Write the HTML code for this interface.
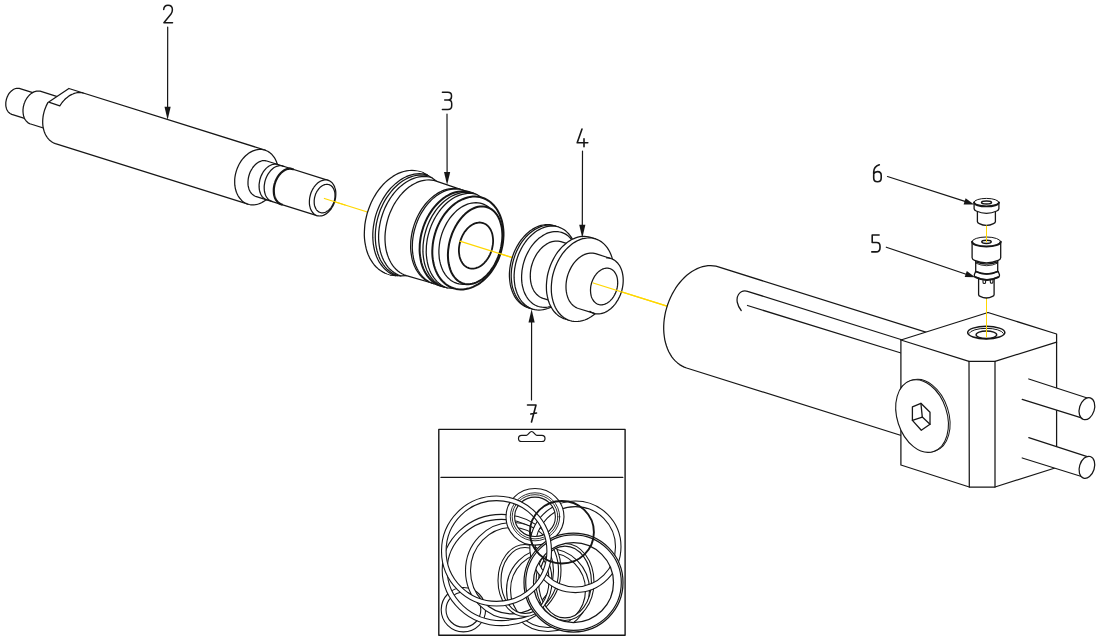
<!DOCTYPE html>
<html><head><meta charset="utf-8"><title>Exploded view</title>
<style>
html,body{margin:0;padding:0;background:#fff;}
body{width:1100px;height:640px;overflow:hidden;font-family:"Liberation Sans",sans-serif;}
svg{display:block;}
</style></head><body>
<svg width="1100" height="640" viewBox="0 0 1100 640" stroke-linecap="round" stroke-linejoin="round">
<defs><clipPath id="bagclip"><rect x="439.5" y="478" width="185.2" height="156.5"/></clipPath></defs>
<rect x="0" y="0" width="1100" height="640" fill="#fff"/>
<line x1="324.4" y1="198.5" x2="667.0" y2="306.2" stroke="#ffd700" stroke-width="1.25" />
<line x1="986.5" y1="226.0" x2="986.5" y2="337.0" stroke="#ffd700" stroke-width="1.0" />
<path d="M20.0 88.6 L19.3 88.4 L18.6 88.3 L17.9 88.3 L17.2 88.3 L16.5 88.4 L15.8 88.5 L15.1 88.7 L14.4 89.0 L13.7 89.3 L13.0 89.7 L12.4 90.2 L11.7 90.7 L11.1 91.3 L10.5 91.9 L9.9 92.5 L9.3 93.2 L8.8 93.9 L8.3 94.7 L7.9 95.5 L7.5 96.4 L7.1 97.2 L6.8 98.1 L6.5 99.0 L6.3 99.9 L6.1 100.8 L5.9 101.8 L5.8 102.7 L5.8 103.6 L5.8 104.5 L5.8 105.4 L5.9 106.3 L6.1 107.1 L6.3 107.9 L6.5 108.7 L6.8 109.5 L7.2 110.2 L7.6 110.9 L8.0 111.5 L8.4 112.1 L8.9 112.6 L9.5 113.1 L10.0 113.5 L10.6 113.8 L11.2 114.1 L11.8 114.4 L31.7 120.6 L32.4 120.8 L33.1 120.9 L33.8 120.9 L34.5 120.9 L35.2 120.8 L35.9 120.7 L36.6 120.5 L37.3 120.2 L38.0 119.9 L38.7 119.5 L39.3 119.0 L40.0 118.5 L40.6 118.0 L41.2 117.4 L41.8 116.7 L42.4 116.0 L42.9 115.3 L43.4 114.5 L43.8 113.7 L44.2 112.8 L44.6 112.0 L44.9 111.1 L45.2 110.2 L45.4 109.3 L45.6 108.4 L45.8 107.4 L45.9 106.5 L45.9 105.6 L45.9 104.7 L45.9 103.8 L45.8 103.0 L45.6 102.1 L45.4 101.3 L45.2 100.5 L44.9 99.7 L44.5 99.0 L44.1 98.4 L43.7 97.7 L43.3 97.2 L42.8 96.6 L42.2 96.2 L41.7 95.7 L41.1 95.4 L40.5 95.1 L39.9 94.9Z" fill="#fff" stroke="none" stroke-width="0" />
<path d="M39.9 94.9 L20.0 88.6 L19.3 88.4 L18.6 88.3 L17.9 88.3 L17.2 88.3 L16.5 88.4 L15.8 88.5 L15.1 88.7 L14.4 89.0 L13.7 89.3 L13.0 89.7 L12.4 90.2 L11.7 90.7 L11.1 91.3 L10.5 91.9 L9.9 92.5 L9.3 93.2 L8.8 93.9 L8.3 94.7 L7.9 95.5 L7.5 96.4 L7.1 97.2 L6.8 98.1 L6.5 99.0 L6.3 99.9 L6.1 100.8 L5.9 101.8 L5.8 102.7 L5.8 103.6 L5.8 104.5 L5.8 105.4 L5.9 106.3 L6.1 107.1 L6.3 107.9 L6.5 108.7 L6.8 109.5 L7.2 110.2 L7.6 110.9 L8.0 111.5 L8.4 112.1 L8.9 112.6 L9.5 113.1 L10.0 113.5 L10.6 113.8 L11.2 114.1 L11.8 114.4 L31.7 120.6" fill="none" stroke="#161616" stroke-width="1.25" />
<path d="M40.9 91.4 L40.1 91.2 L39.2 91.1 L38.4 91.0 L37.5 91.0 L36.6 91.1 L35.7 91.3 L34.8 91.6 L33.9 91.9 L33.0 92.4 L32.2 92.9 L31.3 93.4 L30.5 94.1 L29.7 94.8 L28.9 95.6 L28.2 96.4 L27.5 97.3 L26.8 98.2 L26.2 99.2 L25.6 100.2 L25.1 101.3 L24.7 102.4 L24.2 103.5 L23.9 104.6 L23.6 105.8 L23.3 106.9 L23.2 108.1 L23.0 109.3 L23.0 110.4 L23.0 111.6 L23.1 112.7 L23.2 113.8 L23.4 114.9 L23.6 115.9 L24.0 116.9 L24.3 117.9 L24.7 118.8 L25.2 119.6 L25.8 120.4 L26.3 121.1 L27.0 121.8 L27.6 122.4 L28.3 122.9 L29.1 123.4 L29.9 123.8 L30.7 124.0 L58.9 132.9 L59.7 133.1 L60.6 133.3 L61.4 133.3 L62.3 133.3 L63.2 133.2 L64.1 133.0 L65.0 132.7 L65.9 132.4 L66.8 132.0 L67.6 131.5 L68.5 130.9 L69.3 130.3 L70.1 129.6 L70.9 128.8 L71.6 128.0 L72.3 127.1 L73.0 126.1 L73.6 125.2 L74.2 124.1 L74.7 123.1 L75.1 122.0 L75.6 120.9 L75.9 119.7 L76.2 118.6 L76.5 117.4 L76.6 116.2 L76.8 115.1 L76.8 113.9 L76.8 112.8 L76.7 111.6 L76.6 110.5 L76.4 109.5 L76.2 108.4 L75.8 107.4 L75.5 106.5 L75.1 105.6 L74.6 104.7 L74.0 103.9 L73.5 103.2 L72.8 102.5 L72.2 101.9 L71.5 101.4 L70.7 101.0 L69.9 100.6 L69.1 100.3Z" fill="#fff" stroke="none" stroke-width="0" />
<path d="M69.1 100.3 L40.9 91.4 L40.1 91.2 L39.2 91.1 L38.4 91.0 L37.5 91.0 L36.6 91.1 L35.7 91.3 L34.8 91.6 L33.9 91.9 L33.0 92.4 L32.2 92.9 L31.3 93.4 L30.5 94.1 L29.7 94.8 L28.9 95.6 L28.2 96.4 L27.5 97.3 L26.8 98.2 L26.2 99.2 L25.6 100.2 L25.1 101.3 L24.7 102.4 L24.2 103.5 L23.9 104.6 L23.6 105.8 L23.3 106.9 L23.2 108.1 L23.0 109.3 L23.0 110.4 L23.0 111.6 L23.1 112.7 L23.2 113.8 L23.4 114.9 L23.6 115.9 L24.0 116.9 L24.3 117.9 L24.7 118.8 L25.2 119.6 L25.8 120.4 L26.3 121.1 L27.0 121.8 L27.6 122.4 L28.3 122.9 L29.1 123.4 L29.9 123.8 L30.7 124.0 L58.9 132.9" fill="none" stroke="#161616" stroke-width="1.25" />
<path d="M48.0 102.4 L47.1 104.1 L46.2 105.9 L45.5 107.7 L44.8 109.5 L44.2 111.4 L43.7 113.3 L43.3 115.2 L43.0 117.2 L42.8 119.1 L42.7 121.0 L42.7 122.9 L42.8 124.8 L43.0 126.6 L43.4 128.4 L43.8 130.1 L44.3 131.7 L44.9 133.3 L45.6 134.8 L46.4 136.2 L47.3 137.5 L48.2 138.7 L49.3 139.9 L50.4 140.8 L51.6 141.7 L52.8 142.5 L54.1 143.1 L55.4 143.6 L248.0 204.1 L249.4 204.5 L250.9 204.8 L252.4 204.9 L253.9 204.8 L255.4 204.7 L256.9 204.4 L258.4 204.0 L260.0 203.4 L261.5 202.7 L262.9 201.9 L264.4 201.0 L265.8 199.9 L267.1 198.8 L268.4 197.5 L269.7 196.1 L270.9 194.7 L272.0 193.1 L273.0 191.5 L274.0 189.8 L274.8 188.1 L275.6 186.3 L276.3 184.4 L276.9 182.5 L277.4 180.6 L277.8 178.7 L278.1 176.8 L278.3 174.8 L278.3 172.9 L278.3 171.0 L278.2 169.1 L277.9 167.3 L277.6 165.5 L277.1 163.8 L276.6 162.1 L275.9 160.5 L275.2 159.0 L274.4 157.6 L273.4 156.3 L272.4 155.1 L271.4 153.9 L270.2 152.9 L269.0 152.1 L267.7 151.3 L266.4 150.7 L265.0 150.1 L68.9 88.5Z" fill="#fff" stroke="none" stroke-width="0" />
<path d="M265.0 150.1 L68.9 88.5 L48.0 102.4 L47.1 104.1 L46.2 105.9 L45.5 107.7 L44.8 109.5 L44.2 111.4 L43.7 113.3 L43.3 115.2 L43.0 117.2 L42.8 119.1 L42.7 121.0 L42.7 122.9 L42.8 124.8 L43.0 126.6 L43.4 128.4 L43.8 130.1 L44.3 131.7 L44.9 133.3 L45.6 134.8 L46.4 136.2 L47.3 137.5 L48.2 138.7 L49.3 139.9 L50.4 140.8 L51.6 141.7 L52.8 142.5 L54.1 143.1 L55.4 143.6 L248.0 204.1" fill="none" stroke="#161616" stroke-width="1.25" />
<path d="M248.0 204.1 L249.4 204.5 L250.9 204.8 L252.4 204.9 L253.9 204.8 L255.4 204.7 L256.9 204.4 L258.4 204.0 L260.0 203.4 L261.5 202.7 L262.9 201.9 L264.4 201.0 L265.8 199.9 L267.1 198.8 L268.4 197.5 L269.7 196.1 L270.9 194.7 L272.0 193.1 L273.0 191.5 L274.0 189.8 L274.8 188.1 L275.6 186.3 L276.3 184.4 L276.9 182.5 L277.4 180.6 L277.8 178.7 L278.1 176.8 L278.3 174.8 L278.3 172.9 L278.3 171.0 L278.2 169.1 L277.9 167.3 L277.6 165.5 L277.1 163.8 L276.6 162.1 L275.9 160.5 L275.2 159.0 L274.4 157.6 L273.4 156.3 L272.4 155.1 L271.4 153.9 L270.2 152.9 L269.0 152.1 L267.7 151.3 L266.4 150.7 L265.0 150.1 L263.6 149.8 L262.1 149.5 L260.6 149.4 L259.1 149.5 L257.6 149.6 L256.1 149.9 L254.6 150.3 L253.0 150.9 L251.5 151.6 L250.1 152.4 L248.6 153.3 L247.2 154.4 L245.9 155.5 L244.6 156.8 L243.3 158.2 L242.1 159.6 L241.0 161.2 L240.0 162.8 L239.0 164.5 L238.2 166.2 L237.4 168.0 L236.7 169.9 L236.1 171.8 L235.6 173.7 L235.2 175.6 L234.9 177.5 L234.7 179.5 L234.7 181.4 L234.7 183.3 L234.8 185.2 L235.1 187.0 L235.4 188.8 L235.9 190.5 L236.4 192.2 L237.1 193.8 L237.8 195.3 L238.6 196.7 L239.6 198.0 L240.6 199.2 L241.6 200.4 L242.8 201.4 L244.0 202.2 L245.3 203.0 L246.6 203.6 L248.0 204.1Z" fill="#fff" stroke="#161616" stroke-width="1.25" />
<path d="M49.5 102.3 L59.8 105.9 L62.1 102.5 L63.3 101.1 L64.5 99.8 L65.8 98.5 L67.2 97.4 L68.6 96.3 L70.0 95.4 L71.4 94.6 L72.9 94.0 L74.3 93.4 L75.8 93.0 L77.3 92.7 L78.8 92.6 L80.2 92.6 L81.7 92.7 L83.1 93.0" fill="none" stroke="#161616" stroke-width="1.25" />
<path d="M266.8 161.0 L265.9 160.8 L265.0 160.6 L264.1 160.6 L263.2 160.6 L262.3 160.7 L261.4 161.0 L260.5 161.3 L259.5 161.7 L258.6 162.1 L257.7 162.7 L256.9 163.3 L256.0 164.0 L255.2 164.8 L254.4 165.6 L253.6 166.5 L252.8 167.5 L252.2 168.5 L251.5 169.6 L250.9 170.7 L250.3 171.8 L249.8 173.0 L249.4 174.2 L249.0 175.5 L248.7 176.7 L248.4 178.0 L248.2 179.2 L248.1 180.5 L248.0 181.7 L248.0 183.0 L248.0 184.2 L248.1 185.4 L248.3 186.5 L248.6 187.6 L248.9 188.7 L249.2 189.7 L249.7 190.7 L250.1 191.6 L250.7 192.4 L251.2 193.2 L251.9 193.9 L252.6 194.5 L253.3 195.1 L254.0 195.6 L254.8 196.0 L255.6 196.3 L317.0 215.6 L317.9 215.8 L318.8 215.9 L319.7 216.0 L320.6 215.9 L321.5 215.8 L322.4 215.6 L323.3 215.3 L324.3 214.9 L325.2 214.4 L326.1 213.9 L326.9 213.3 L327.8 212.5 L328.6 211.8 L329.4 210.9 L330.2 210.0 L331.0 209.1 L331.6 208.0 L332.3 207.0 L332.9 205.9 L333.5 204.7 L334.0 203.5 L334.4 202.3 L334.8 201.1 L335.1 199.8 L335.4 198.6 L335.6 197.3 L335.7 196.1 L335.8 194.8 L335.8 193.6 L335.8 192.4 L335.7 191.2 L335.5 190.0 L335.2 188.9 L334.9 187.9 L334.6 186.8 L334.1 185.9 L333.7 185.0 L333.1 184.1 L332.6 183.3 L331.9 182.6 L331.2 182.0 L330.5 181.5 L329.8 181.0 L329.0 180.6 L328.2 180.3Z" fill="#fff" stroke="none" stroke-width="0" />
<path d="M328.2 180.3 L266.8 161.0 L265.9 160.8 L265.0 160.6 L264.1 160.6 L263.2 160.6 L262.3 160.7 L261.4 161.0 L260.5 161.3 L259.5 161.7 L258.6 162.1 L257.7 162.7 L256.9 163.3 L256.0 164.0 L255.2 164.8 L254.4 165.6 L253.6 166.5 L252.8 167.5 L252.2 168.5 L251.5 169.6 L250.9 170.7 L250.3 171.8 L249.8 173.0 L249.4 174.2 L249.0 175.5 L248.7 176.7 L248.4 178.0 L248.2 179.2 L248.1 180.5 L248.0 181.7 L248.0 183.0 L248.0 184.2 L248.1 185.4 L248.3 186.5 L248.6 187.6 L248.9 188.7 L249.2 189.7 L249.7 190.7 L250.1 191.6 L250.7 192.4 L251.2 193.2 L251.9 193.9 L252.6 194.5 L253.3 195.1 L254.0 195.6 L254.8 196.0 L255.6 196.3 L317.0 215.6" fill="none" stroke="#161616" stroke-width="1.25" />
<path d="M317.0 215.6 L317.9 215.8 L318.8 215.9 L319.7 216.0 L320.6 215.9 L321.5 215.8 L322.4 215.6 L323.3 215.3 L324.3 214.9 L325.2 214.4 L326.1 213.9 L326.9 213.3 L327.8 212.5 L328.6 211.8 L329.4 210.9 L330.2 210.0 L331.0 209.1 L331.6 208.0 L332.3 207.0 L332.9 205.9 L333.5 204.7 L334.0 203.5 L334.4 202.3 L334.8 201.1 L335.1 199.8 L335.4 198.6 L335.6 197.3 L335.7 196.1 L335.8 194.8 L335.8 193.6 L335.8 192.4 L335.7 191.2 L335.5 190.0 L335.2 188.9 L334.9 187.9 L334.6 186.8 L334.1 185.9 L333.7 185.0 L333.1 184.1 L332.6 183.3 L331.9 182.6 L331.2 182.0 L330.5 181.5 L329.8 181.0 L329.0 180.6 L328.2 180.3 L327.3 180.1 L326.4 179.9 L325.5 179.9 L324.6 179.9 L323.7 180.1 L322.8 180.3 L321.9 180.6 L320.9 181.0 L320.0 181.4 L319.1 182.0 L318.3 182.6 L317.4 183.3 L316.6 184.1 L315.8 184.9 L315.0 185.8 L314.2 186.8 L313.6 187.8 L312.9 188.9 L312.3 190.0 L311.7 191.2 L311.2 192.3 L310.8 193.5 L310.4 194.8 L310.1 196.0 L309.8 197.3 L309.6 198.5 L309.5 199.8 L309.4 201.0 L309.4 202.3 L309.4 203.5 L309.5 204.7 L309.7 205.8 L310.0 206.9 L310.3 208.0 L310.6 209.0 L311.1 210.0 L311.5 210.9 L312.1 211.7 L312.6 212.5 L313.3 213.2 L314.0 213.9 L314.7 214.4 L315.4 214.9 L316.2 215.3 L317.0 215.6Z" fill="#fff" stroke="#161616" stroke-width="1.25" />
<path d="M278.7 164.8 L277.8 164.5 L277.0 164.2 L276.1 164.1 L275.2 164.1 L274.3 164.1 L273.4 164.3 L272.4 164.5 L271.5 164.8 L270.6 165.2 L269.6 165.7 L268.7 166.2 L267.8 166.9 L267.0 167.6 L266.1 168.4 L265.3 169.3 L264.6 170.2 L263.8 171.2 L263.1 172.2 L262.5 173.3 L261.9 174.4 L261.3 175.6 L260.8 176.8 L260.4 178.0 L260.0 179.3 L259.7 180.5 L259.5 181.8 L259.3 183.1 L259.1 184.4 L259.1 185.6 L259.1 186.9 L259.2 188.1 L259.3 189.3 L259.5 190.4 L259.8 191.5 L260.1 192.6 L260.5 193.6 L260.9 194.5 L261.4 195.4 L262.0 196.3 L262.6 197.0 L263.3 197.7 L264.0 198.3 L264.7 198.8 L265.5 199.3 L266.3 199.6 L267.2 199.9" fill="none" stroke="#161616" stroke-width="1.25" />
<path d="M283.8 166.4 L282.9 166.1 L282.1 165.8 L281.2 165.7 L280.3 165.7 L279.4 165.7 L278.5 165.9 L277.5 166.1 L276.6 166.4 L275.7 166.8 L274.7 167.3 L273.8 167.8 L272.9 168.5 L272.1 169.2 L271.2 170.0 L270.4 170.9 L269.7 171.8 L268.9 172.8 L268.2 173.8 L267.6 174.9 L267.0 176.0 L266.4 177.2 L265.9 178.4 L265.5 179.6 L265.1 180.9 L264.8 182.2 L264.6 183.4 L264.4 184.7 L264.2 186.0 L264.2 187.2 L264.2 188.5 L264.3 189.7 L264.4 190.9 L264.6 192.0 L264.9 193.1 L265.2 194.2 L265.6 195.2 L266.0 196.1 L266.5 197.0 L267.1 197.9 L267.7 198.6 L268.4 199.3 L269.1 199.9 L269.8 200.4 L270.6 200.9 L271.4 201.2 L272.3 201.5" fill="none" stroke="#161616" stroke-width="1.25" />
<path d="M293.0 169.2 L292.1 169.0 L291.3 168.8 L290.4 168.7 L289.5 168.7 L288.6 168.8 L287.7 169.0 L286.7 169.2 L285.8 169.6 L284.9 170.0 L284.0 170.5 L283.1 171.1 L282.2 171.8 L281.4 172.5 L280.6 173.3 L279.8 174.2 L279.0 175.1 L278.3 176.1 L277.6 177.2 L277.0 178.2 L276.4 179.4 L275.9 180.5 L275.4 181.7 L275.0 183.0 L274.6 184.2 L274.3 185.5 L274.1 186.7 L273.9 188.0 L273.8 189.2 L273.8 190.5 L273.8 191.7 L273.9 192.9 L274.0 194.1 L274.2 195.2 L274.5 196.3 L274.8 197.3 L275.2 198.3 L275.7 199.3 L276.2 200.1 L276.8 200.9 L277.4 201.7 L278.0 202.4 L278.7 202.9 L279.5 203.5 L280.2 203.9 L281.0 204.2 L281.9 204.5" fill="none" stroke="#161616" stroke-width="2.2" />
<path d="M320.2 212.5 L320.9 212.7 L321.6 212.8 L322.3 212.8 L323.0 212.8 L323.7 212.7 L324.5 212.5 L325.2 212.3 L325.9 212.0 L326.6 211.6 L327.3 211.1 L328.0 210.7 L328.7 210.1 L329.4 209.5 L330.0 208.8 L330.6 208.1 L331.2 207.3 L331.7 206.5 L332.3 205.7 L332.7 204.8 L333.2 203.9 L333.6 203.0 L333.9 202.0 L334.2 201.1 L334.5 200.1 L334.7 199.1 L334.8 198.1 L335.0 197.1 L335.0 196.1 L335.0 195.1 L335.0 194.2 L334.9 193.2 L334.8 192.3 L334.6 191.5 L334.3 190.6 L334.0 189.8 L333.7 189.0 L333.3 188.3 L332.9 187.7 L332.5 187.1 L332.0 186.5 L331.4 186.0 L330.9 185.6 L330.3 185.2 L329.6 184.9 L329.0 184.6 L328.3 184.5 L327.6 184.4 L326.9 184.3 L326.2 184.4 L325.5 184.5 L324.7 184.6 L324.0 184.9 L323.3 185.2 L322.6 185.5 L321.9 186.0 L321.2 186.5 L320.5 187.0 L319.8 187.6 L319.2 188.3 L318.6 189.0 L318.0 189.8 L317.5 190.6 L316.9 191.4 L316.5 192.3 L316.0 193.2 L315.6 194.1 L315.3 195.1 L315.0 196.1 L314.7 197.1 L314.5 198.0 L314.4 199.0 L314.2 200.0 L314.2 201.0 L314.2 202.0 L314.2 202.9 L314.3 203.9 L314.4 204.8 L314.6 205.7 L314.9 206.5 L315.2 207.3 L315.5 208.1 L315.9 208.8 L316.3 209.5 L316.7 210.1 L317.2 210.6 L317.8 211.1 L318.3 211.6 L318.9 211.9 L319.6 212.2 L320.2 212.5Z" fill="#fff" stroke="#161616" stroke-width="1.25" />
<line x1="324.4" y1="198.5" x2="345.0" y2="205.0" stroke="#ffd700" stroke-width="1.25" />
<path d="M419.7 171.6 L417.2 171.0 L414.6 170.6 L411.9 170.4 L409.2 170.5 L406.5 170.9 L403.7 171.5 L401.0 172.3 L398.3 173.4 L395.6 174.8 L392.9 176.4 L390.3 178.2 L387.7 180.2 L385.3 182.4 L382.9 184.8 L380.6 187.5 L378.5 190.2 L376.4 193.2 L374.5 196.3 L372.7 199.5 L371.1 202.8 L369.7 206.3 L368.4 209.8 L367.2 213.3 L366.3 217.0 L365.5 220.6 L364.9 224.3 L364.6 227.9 L364.4 231.5 L364.3 235.1 L364.5 238.6 L364.9 242.1 L365.5 245.4 L366.2 248.7 L367.1 251.8 L368.2 254.8 L369.5 257.6 L371.0 260.2 L372.6 262.7 L374.3 265.0 L376.2 267.0 L378.3 268.9 L380.4 270.5 L382.7 271.9 L385.0 273.1 L387.5 274.0 L390.9 275.1 L393.4 275.7 L396.0 276.1 L398.7 276.3 L401.4 276.2 L404.1 275.8 L406.9 275.2 L409.6 274.4 L412.3 273.3 L415.0 271.9 L417.7 270.3 L420.3 268.5 L422.9 266.5 L425.3 264.3 L427.7 261.8 L430.0 259.2 L432.1 256.4 L434.2 253.5 L436.1 250.4 L437.9 247.2 L439.5 243.9 L440.9 240.4 L442.2 236.9 L443.4 233.4 L444.3 229.7 L445.1 226.1 L445.7 222.4 L446.0 218.8 L446.2 215.2 L446.3 211.6 L446.1 208.0 L445.7 204.6 L445.1 201.2 L444.4 198.0 L443.5 194.9 L442.4 191.9 L441.1 189.1 L439.6 186.4 L438.0 184.0 L436.3 181.7 L434.4 179.6 L432.3 177.8 L430.2 176.2 L427.9 174.8 L425.6 173.6 L423.1 172.7Z" fill="#fff" stroke="none" stroke-width="0" />
<path d="M423.1 172.7 L419.7 171.6 L417.2 171.0 L414.6 170.6 L411.9 170.4 L409.2 170.5 L406.5 170.9 L403.7 171.5 L401.0 172.3 L398.3 173.4 L395.6 174.8 L392.9 176.4 L390.3 178.2 L387.7 180.2 L385.3 182.4 L382.9 184.8 L380.6 187.5 L378.5 190.2 L376.4 193.2 L374.5 196.3 L372.7 199.5 L371.1 202.8 L369.7 206.3 L368.4 209.8 L367.2 213.3 L366.3 217.0 L365.5 220.6 L364.9 224.3 L364.6 227.9 L364.4 231.5 L364.3 235.1 L364.5 238.6 L364.9 242.1 L365.5 245.4 L366.2 248.7 L367.1 251.8 L368.2 254.8 L369.5 257.6 L371.0 260.2 L372.6 262.7 L374.3 265.0 L376.2 267.0 L378.3 268.9 L380.4 270.5 L382.7 271.9 L385.0 273.1 L387.5 274.0 L390.9 275.1" fill="none" stroke="#161616" stroke-width="1.25" />
<path d="M423.1 172.7 L420.6 172.0 L418.0 171.6 L415.3 171.5 L412.6 171.6 L409.9 171.9 L407.1 172.5 L404.4 173.4 L401.7 174.5 L399.0 175.9 L396.3 177.4 L393.7 179.2 L391.1 181.3 L388.7 183.5 L386.3 185.9 L384.0 188.5 L381.9 191.3 L379.8 194.3 L377.9 197.3 L376.1 200.6 L374.5 203.9 L373.1 207.3 L371.8 210.8 L370.6 214.4 L369.7 218.0 L368.9 221.7 L368.3 225.3 L368.0 229.0 L367.8 232.6 L367.7 236.2 L367.9 239.7 L368.3 243.2 L368.9 246.5 L369.6 249.7 L370.5 252.9 L371.6 255.8 L372.9 258.7 L374.4 261.3 L376.0 263.8 L377.7 266.0 L379.6 268.1 L381.7 270.0 L383.8 271.6 L386.1 273.0 L388.4 274.1 L390.9 275.1 L395.6 275.6 L398.1 276.2 L400.6 276.6 L403.2 276.8 L405.9 276.7 L408.6 276.3 L411.3 275.7 L414.0 274.9 L416.6 273.8 L419.3 272.5 L421.9 270.9 L424.5 269.2 L427.0 267.2 L429.4 265.0 L431.8 262.6 L434.0 260.0 L436.1 257.3 L438.1 254.4 L440.0 251.3 L441.7 248.2 L443.3 244.9 L444.8 241.5 L446.1 238.1 L447.2 234.6 L448.1 231.0 L448.8 227.4 L449.4 223.8 L449.8 220.2 L450.0 216.7 L450.0 213.2 L449.8 209.7 L449.5 206.3 L448.9 203.0 L448.2 199.8 L447.3 196.8 L446.2 193.8 L444.9 191.1 L443.5 188.5 L441.9 186.0 L440.2 183.8 L438.3 181.8 L436.3 179.9 L434.2 178.3 L432.0 177.0 L429.6 175.8 L427.2 174.9Z" fill="#fff" stroke="none" stroke-width="0" />
<path d="M427.2 174.9 L423.1 172.7" fill="none" stroke="#161616" stroke-width="1.25" />
<path d="M390.9 275.1 L395.6 275.6" fill="none" stroke="#161616" stroke-width="1.25" />
<path d="M427.2 174.9 L424.7 174.3 L422.2 173.9 L419.6 173.7 L416.9 173.8 L414.2 174.2 L411.5 174.8 L408.8 175.6 L406.2 176.7 L403.5 178.0 L400.9 179.6 L398.3 181.4 L395.8 183.4 L393.4 185.6 L391.0 187.9 L388.8 190.5 L386.7 193.2 L384.7 196.1 L382.8 199.2 L381.1 202.3 L379.5 205.6 L378.0 209.0 L376.7 212.4 L375.6 215.9 L374.7 219.5 L374.0 223.1 L373.4 226.7 L373.0 230.3 L372.8 233.8 L372.8 237.4 L373.0 240.8 L373.3 244.2 L373.9 247.5 L374.6 250.7 L375.5 253.8 L376.6 256.7 L377.9 259.5 L379.3 262.1 L380.9 264.5 L382.6 266.7 L384.5 268.8 L386.5 270.6 L388.6 272.2 L390.8 273.6 L393.2 274.7 L395.6 275.6 L397.8 275.6 L400.2 276.2 L402.8 276.6 L405.3 276.8 L408.0 276.7 L410.6 276.3 L413.3 275.7 L415.9 274.9 L418.6 273.8 L421.2 272.5 L423.8 271.0 L426.3 269.2 L428.8 267.3 L431.2 265.1 L433.5 262.8 L435.7 260.2 L437.8 257.5 L439.8 254.7 L441.7 251.7 L443.4 248.5 L444.9 245.3 L446.4 242.0 L447.6 238.6 L448.7 235.1 L449.6 231.6 L450.4 228.0 L450.9 224.5 L451.3 220.9 L451.5 217.4 L451.5 213.9 L451.3 210.5 L451.0 207.2 L450.4 203.9 L449.7 200.8 L448.8 197.7 L447.7 194.9 L446.5 192.1 L445.1 189.5 L443.5 187.1 L441.8 184.9 L440.0 182.9 L438.0 181.1 L435.9 179.6 L433.7 178.2 L431.4 177.1 L429.0 176.2Z" fill="#fff" stroke="none" stroke-width="0" />
<path d="M429.0 176.2 L427.2 174.9 L424.7 174.3 L422.2 173.9 L419.6 173.7 L416.9 173.8 L414.2 174.2 L411.5 174.8 L408.8 175.6 L406.2 176.7 L403.5 178.0 L400.9 179.6 L398.3 181.4 L395.8 183.4 L393.4 185.6 L391.0 187.9 L388.8 190.5 L386.7 193.2 L384.7 196.1 L382.8 199.2 L381.1 202.3 L379.5 205.6 L378.0 209.0 L376.7 212.4 L375.6 215.9 L374.7 219.5 L374.0 223.1 L373.4 226.7 L373.0 230.3 L372.8 233.8 L372.8 237.4 L373.0 240.8 L373.3 244.2 L373.9 247.5 L374.6 250.7 L375.5 253.8 L376.6 256.7 L377.9 259.5 L379.3 262.1 L380.9 264.5 L382.6 266.7 L384.5 268.8 L386.5 270.6 L388.6 272.2 L390.8 273.6 L393.2 274.7 L395.6 275.6 L397.8 275.6" fill="none" stroke="#161616" stroke-width="1.25" />
<path d="M429.0 176.2 L426.6 175.5 L424.0 175.2 L421.5 175.0 L418.8 175.1 L416.2 175.4 L413.5 176.0 L410.9 176.9 L408.2 177.9 L405.6 179.3 L403.0 180.8 L400.5 182.5 L398.0 184.5 L395.6 186.7 L393.3 189.0 L391.1 191.6 L389.0 194.3 L387.0 197.1 L385.1 200.1 L383.4 203.3 L381.9 206.5 L380.4 209.8 L379.2 213.2 L378.1 216.7 L377.2 220.2 L376.4 223.7 L375.9 227.3 L375.5 230.8 L375.3 234.4 L375.3 237.8 L375.5 241.3 L375.8 244.6 L376.4 247.9 L377.1 251.0 L378.0 254.0 L379.1 256.9 L380.3 259.7 L381.7 262.2 L383.3 264.6 L385.0 266.8 L386.8 268.9 L388.8 270.6 L390.9 272.2 L393.1 273.6 L395.4 274.7 L397.8 275.6 L400.8 275.9 L403.3 276.6 L405.8 277.0 L408.3 277.1 L410.9 277.0 L413.5 276.7 L416.2 276.1 L418.8 275.3 L421.4 274.2 L424.0 272.9 L426.6 271.4 L429.1 269.7 L431.5 267.7 L433.9 265.6 L436.2 263.2 L438.4 260.7 L440.4 258.1 L442.4 255.2 L444.2 252.3 L445.9 249.2 L447.5 246.0 L448.9 242.7 L450.1 239.3 L451.2 235.9 L452.1 232.4 L452.8 228.9 L453.4 225.4 L453.8 221.9 L454.0 218.4 L454.0 215.0 L453.8 211.6 L453.4 208.3 L452.9 205.1 L452.2 202.0 L451.3 199.0 L450.2 196.1 L449.0 193.4 L447.6 190.9 L446.1 188.5 L444.4 186.3 L442.6 184.3 L440.6 182.6 L438.6 181.0 L436.4 179.7 L434.1 178.5 L431.8 177.7Z" fill="#fff" stroke="none" stroke-width="0" />
<path d="M431.8 177.7 L429.0 176.2 L426.6 175.5 L424.0 175.2 L421.5 175.0 L418.8 175.1 L416.2 175.4 L413.5 176.0 L410.9 176.9 L408.2 177.9 L405.6 179.3 L403.0 180.8 L400.5 182.5 L398.0 184.5 L395.6 186.7 L393.3 189.0 L391.1 191.6 L389.0 194.3 L387.0 197.1 L385.1 200.1 L383.4 203.3 L381.9 206.5 L380.4 209.8 L379.2 213.2 L378.1 216.7 L377.2 220.2 L376.4 223.7 L375.9 227.3 L375.5 230.8 L375.3 234.4 L375.3 237.8 L375.5 241.3 L375.8 244.6 L376.4 247.9 L377.1 251.0 L378.0 254.0 L379.1 256.9 L380.3 259.7 L381.7 262.2 L383.3 264.6 L385.0 266.8 L386.8 268.9 L388.8 270.6 L390.9 272.2 L393.1 273.6 L395.4 274.7 L397.8 275.6 L400.8 275.9" fill="none" stroke="#161616" stroke-width="1.25" />
<path d="M431.8 177.7 L429.3 177.0 L426.8 176.6 L424.3 176.5 L421.7 176.6 L419.1 176.9 L416.4 177.5 L413.8 178.3 L411.2 179.4 L408.6 180.7 L406.0 182.2 L403.5 184.0 L401.1 185.9 L398.7 188.0 L396.4 190.4 L394.2 192.9 L392.2 195.5 L390.2 198.4 L388.4 201.3 L386.7 204.4 L385.1 207.6 L383.7 210.9 L382.5 214.3 L381.4 217.7 L380.5 221.2 L379.8 224.7 L379.2 228.2 L378.8 231.7 L378.6 235.2 L378.6 238.6 L378.8 242.0 L379.2 245.3 L379.7 248.5 L380.4 251.6 L381.3 254.6 L382.4 257.5 L383.6 260.2 L385.0 262.7 L386.5 265.1 L388.2 267.3 L390.0 269.3 L392.0 271.0 L394.0 272.6 L396.2 273.9 L398.5 275.1 L400.8 275.9 L406.4 275.7 L408.8 276.3 L411.2 276.7 L413.6 276.8 L416.1 276.7 L418.6 276.4 L421.2 275.8 L423.7 275.0 L426.2 274.0 L428.7 272.8 L431.2 271.3 L433.6 269.6 L436.0 267.8 L438.2 265.7 L440.4 263.5 L442.5 261.1 L444.5 258.5 L446.4 255.8 L448.2 252.9 L449.8 249.9 L451.3 246.8 L452.7 243.7 L453.9 240.4 L454.9 237.1 L455.8 233.8 L456.5 230.4 L457.0 227.0 L457.4 223.7 L457.6 220.3 L457.6 217.0 L457.4 213.7 L457.1 210.6 L456.6 207.5 L455.9 204.5 L455.0 201.6 L454.0 198.8 L452.8 196.2 L451.5 193.8 L450.0 191.5 L448.4 189.4 L446.6 187.5 L444.7 185.8 L442.7 184.3 L440.6 183.0 L438.5 181.9 L436.2 181.1Z" fill="#fff" stroke="none" stroke-width="0" />
<path d="M436.2 181.1 L431.8 177.7 L429.3 177.0 L426.8 176.6 L424.3 176.5 L421.7 176.6 L419.1 176.9 L416.4 177.5 L413.8 178.3 L411.2 179.4 L408.6 180.7 L406.0 182.2 L403.5 184.0 L401.1 185.9 L398.7 188.0 L396.4 190.4 L394.2 192.9 L392.2 195.5 L390.2 198.4 L388.4 201.3 L386.7 204.4 L385.1 207.6 L383.7 210.9 L382.5 214.3 L381.4 217.7 L380.5 221.2 L379.8 224.7 L379.2 228.2 L378.8 231.7 L378.6 235.2 L378.6 238.6 L378.8 242.0 L379.2 245.3 L379.7 248.5 L380.4 251.6 L381.3 254.6 L382.4 257.5 L383.6 260.2 L385.0 262.7 L386.5 265.1 L388.2 267.3 L390.0 269.3 L392.0 271.0 L394.0 272.6 L396.2 273.9 L398.5 275.1 L400.8 275.9 L406.4 275.7" fill="none" stroke="#161616" stroke-width="1.25" />
<path d="M436.2 181.1 L433.8 180.4 L431.4 180.1 L429.0 179.9 L426.5 180.0 L424.0 180.4 L421.4 180.9 L418.9 181.7 L416.4 182.7 L413.9 184.0 L411.4 185.4 L409.0 187.1 L406.6 189.0 L404.4 191.0 L402.2 193.3 L400.1 195.7 L398.1 198.3 L396.2 201.0 L394.4 203.8 L392.8 206.8 L391.3 209.9 L389.9 213.1 L388.7 216.3 L387.7 219.6 L386.8 223.0 L386.1 226.3 L385.6 229.7 L385.2 233.1 L385.0 236.4 L385.0 239.8 L385.2 243.0 L385.5 246.2 L386.0 249.3 L386.7 252.3 L387.6 255.2 L388.6 257.9 L389.8 260.5 L391.1 263.0 L392.6 265.3 L394.2 267.4 L396.0 269.3 L397.9 271.0 L399.9 272.5 L402.0 273.8 L404.1 274.8 L406.4 275.7 L431.8 283.0 L434.1 283.6 L436.5 284.0 L438.9 284.2 L441.4 284.1 L443.9 283.7 L446.4 283.2 L448.9 282.4 L451.4 281.4 L453.8 280.2 L456.3 278.7 L458.7 277.1 L461.0 275.2 L463.2 273.2 L465.4 271.0 L467.5 268.6 L469.5 266.0 L471.3 263.4 L473.1 260.5 L474.7 257.6 L476.2 254.6 L477.5 251.4 L478.7 248.2 L479.7 245.0 L480.6 241.6 L481.3 238.3 L481.8 235.0 L482.2 231.6 L482.3 228.3 L482.4 225.1 L482.2 221.8 L481.8 218.7 L481.3 215.6 L480.7 212.7 L479.8 209.8 L478.8 207.1 L477.6 204.5 L476.3 202.1 L474.8 199.9 L473.2 197.8 L471.5 195.9 L469.6 194.2 L467.7 192.7 L465.6 191.4 L463.4 190.4 L461.2 189.6Z" fill="#fff" stroke="none" stroke-width="0" />
<path d="M461.2 189.6 L436.2 181.1 L433.8 180.4 L431.4 180.1 L429.0 179.9 L426.5 180.0 L424.0 180.4 L421.4 180.9 L418.9 181.7 L416.4 182.7 L413.9 184.0 L411.4 185.4 L409.0 187.1 L406.6 189.0 L404.4 191.0 L402.2 193.3 L400.1 195.7 L398.1 198.3 L396.2 201.0 L394.4 203.8 L392.8 206.8 L391.3 209.9 L389.9 213.1 L388.7 216.3 L387.7 219.6 L386.8 223.0 L386.1 226.3 L385.6 229.7 L385.2 233.1 L385.0 236.4 L385.0 239.8 L385.2 243.0 L385.5 246.2 L386.0 249.3 L386.7 252.3 L387.6 255.2 L388.6 257.9 L389.8 260.5 L391.1 263.0 L392.6 265.3 L394.2 267.4 L396.0 269.3 L397.9 271.0 L399.9 272.5 L402.0 273.8 L404.1 274.8 L406.4 275.7 L431.8 283.0" fill="none" stroke="#161616" stroke-width="1.25" />
<path d="M461.2 189.6 L458.9 189.0 L456.5 188.6 L454.1 188.4 L451.6 188.5 L449.1 188.9 L446.6 189.4 L444.1 190.2 L441.6 191.2 L439.2 192.4 L436.7 193.9 L434.3 195.5 L432.0 197.4 L429.8 199.4 L427.6 201.6 L425.5 204.0 L423.5 206.6 L421.7 209.2 L419.9 212.1 L418.3 215.0 L416.8 218.0 L415.5 221.2 L414.3 224.4 L413.3 227.6 L412.4 231.0 L411.7 234.3 L411.2 237.6 L410.8 241.0 L410.7 244.3 L410.6 247.5 L410.8 250.8 L411.2 253.9 L411.7 257.0 L412.3 259.9 L413.2 262.8 L414.2 265.5 L415.4 268.1 L416.7 270.5 L418.2 272.7 L419.8 274.8 L421.5 276.7 L423.4 278.4 L425.3 279.9 L427.4 281.2 L429.6 282.2 L431.8 283.0 L433.5 283.6 L435.8 284.2 L438.2 284.6 L440.6 284.7 L443.1 284.6 L445.6 284.3 L448.1 283.7 L450.6 282.9 L453.1 281.9 L455.5 280.7 L458.0 279.3 L460.4 277.6 L462.7 275.8 L464.9 273.7 L467.1 271.5 L469.2 269.1 L471.2 266.6 L473.0 263.9 L474.8 261.1 L476.4 258.1 L477.9 255.1 L479.2 252.0 L480.4 248.8 L481.4 245.5 L482.3 242.2 L483.0 238.9 L483.5 235.5 L483.9 232.2 L484.0 228.9 L484.1 225.6 L483.9 222.4 L483.5 219.2 L483.0 216.2 L482.4 213.2 L481.5 210.4 L480.5 207.6 L479.3 205.1 L478.0 202.6 L476.5 200.4 L474.9 198.3 L473.2 196.4 L471.3 194.7 L469.4 193.3 L467.3 192.0 L465.1 190.9 L462.9 190.1Z" fill="#fff" stroke="none" stroke-width="0" />
<path d="M462.9 190.1 L461.2 189.6 L458.9 189.0 L456.5 188.6 L454.1 188.4 L451.6 188.5 L449.1 188.9 L446.6 189.4 L444.1 190.2 L441.6 191.2 L439.2 192.4 L436.7 193.9 L434.3 195.5 L432.0 197.4 L429.8 199.4 L427.6 201.6 L425.5 204.0 L423.5 206.6 L421.7 209.2 L419.9 212.1 L418.3 215.0 L416.8 218.0 L415.5 221.2 L414.3 224.4 L413.3 227.6 L412.4 231.0 L411.7 234.3 L411.2 237.6 L410.8 241.0 L410.7 244.3 L410.6 247.5 L410.8 250.8 L411.2 253.9 L411.7 257.0 L412.3 259.9 L413.2 262.8 L414.2 265.5 L415.4 268.1 L416.7 270.5 L418.2 272.7 L419.8 274.8 L421.5 276.7 L423.4 278.4 L425.3 279.9 L427.4 281.2 L429.6 282.2 L431.8 283.0 L433.5 283.6" fill="none" stroke="#161616" stroke-width="1.25" />
<path d="M462.9 190.1 L460.6 189.5 L458.2 189.1 L455.8 189.0 L453.3 189.1 L450.8 189.4 L448.3 189.9 L445.8 190.7 L443.3 191.7 L440.9 193.0 L438.4 194.4 L436.0 196.1 L433.7 197.9 L431.5 199.9 L429.3 202.2 L427.2 204.6 L425.2 207.1 L423.4 209.8 L421.6 212.6 L420.0 215.5 L418.5 218.6 L417.2 221.7 L416.0 224.9 L415.0 228.2 L414.1 231.5 L413.4 234.8 L412.9 238.2 L412.5 241.5 L412.4 244.8 L412.3 248.1 L412.5 251.3 L412.9 254.4 L413.4 257.5 L414.0 260.5 L414.9 263.3 L415.9 266.0 L417.1 268.6 L418.4 271.0 L419.9 273.3 L421.5 275.4 L423.2 277.2 L425.1 278.9 L427.0 280.4 L429.1 281.7 L431.3 282.7 L433.5 283.6 L440.8 285.9 L443.1 286.5 L445.5 286.9 L447.9 287.0 L450.4 286.9 L452.9 286.6 L455.4 286.0 L457.9 285.2 L460.4 284.2 L462.8 283.0 L465.3 281.6 L467.7 279.9 L470.0 278.1 L472.2 276.0 L474.4 273.8 L476.5 271.4 L478.5 268.9 L480.3 266.2 L482.1 263.4 L483.7 260.4 L485.2 257.4 L486.5 254.3 L487.7 251.0 L488.7 247.8 L489.6 244.5 L490.3 241.1 L490.8 237.8 L491.2 234.5 L491.3 231.2 L491.4 227.9 L491.2 224.7 L490.8 221.5 L490.3 218.5 L489.7 215.5 L488.8 212.7 L487.8 209.9 L486.6 207.4 L485.3 204.9 L483.8 202.7 L482.2 200.6 L480.5 198.7 L478.6 197.0 L476.7 195.5 L474.6 194.3 L472.4 193.2 L470.2 192.4Z" fill="#fff" stroke="none" stroke-width="0" />
<path d="M470.2 192.4 L462.9 190.1 L460.6 189.5 L458.2 189.1 L455.8 189.0 L453.3 189.1 L450.8 189.4 L448.3 189.9 L445.8 190.7 L443.3 191.7 L440.9 193.0 L438.4 194.4 L436.0 196.1 L433.7 197.9 L431.5 199.9 L429.3 202.2 L427.2 204.6 L425.2 207.1 L423.4 209.8 L421.6 212.6 L420.0 215.5 L418.5 218.6 L417.2 221.7 L416.0 224.9 L415.0 228.2 L414.1 231.5 L413.4 234.8 L412.9 238.2 L412.5 241.5 L412.4 244.8 L412.3 248.1 L412.5 251.3 L412.9 254.4 L413.4 257.5 L414.0 260.5 L414.9 263.3 L415.9 266.0 L417.1 268.6 L418.4 271.0 L419.9 273.3 L421.5 275.4 L423.2 277.2 L425.1 278.9 L427.0 280.4 L429.1 281.7 L431.3 282.7 L433.5 283.6 L440.8 285.9" fill="none" stroke="#161616" stroke-width="1.25" />
<path d="M470.2 192.4 L467.9 191.8 L465.5 191.4 L463.1 191.3 L460.6 191.4 L458.1 191.7 L455.6 192.2 L453.1 193.0 L450.6 194.0 L448.2 195.3 L445.7 196.7 L443.3 198.4 L441.0 200.2 L438.8 202.2 L436.6 204.5 L434.5 206.8 L432.5 209.4 L430.7 212.1 L428.9 214.9 L427.3 217.8 L425.8 220.9 L424.5 224.0 L423.3 227.2 L422.3 230.5 L421.4 233.8 L420.7 237.1 L420.2 240.5 L419.8 243.8 L419.7 247.1 L419.6 250.4 L419.8 253.6 L420.2 256.7 L420.7 259.8 L421.3 262.8 L422.2 265.6 L423.2 268.3 L424.4 270.9 L425.7 273.3 L427.2 275.6 L428.8 277.6 L430.5 279.5 L432.4 281.2 L434.3 282.7 L436.4 284.0 L438.6 285.0 L440.8 285.9 L444.1 286.9 L446.4 287.5 L448.8 287.9 L451.2 288.0 L453.7 287.9 L456.2 287.6 L458.7 287.1 L461.2 286.3 L463.7 285.3 L466.1 284.0 L468.6 282.6 L471.0 280.9 L473.3 279.1 L475.5 277.1 L477.7 274.8 L479.8 272.5 L481.8 269.9 L483.6 267.2 L485.4 264.4 L487.0 261.5 L488.5 258.4 L489.8 255.3 L491.0 252.1 L492.0 248.8 L492.9 245.5 L493.6 242.2 L494.1 238.8 L494.5 235.5 L494.6 232.2 L494.7 228.9 L494.5 225.7 L494.1 222.6 L493.6 219.5 L493.0 216.5 L492.1 213.7 L491.1 211.0 L489.9 208.4 L488.6 206.0 L487.1 203.7 L485.5 201.7 L483.8 199.8 L481.9 198.1 L480.0 196.6 L477.9 195.3 L475.7 194.3 L473.5 193.4Z" fill="#fff" stroke="none" stroke-width="0" />
<path d="M473.5 193.4 L470.2 192.4 L467.9 191.8 L465.5 191.4 L463.1 191.3 L460.6 191.4 L458.1 191.7 L455.6 192.2 L453.1 193.0 L450.6 194.0 L448.2 195.3 L445.7 196.7 L443.3 198.4 L441.0 200.2 L438.8 202.2 L436.6 204.5 L434.5 206.8 L432.5 209.4 L430.7 212.1 L428.9 214.9 L427.3 217.8 L425.8 220.9 L424.5 224.0 L423.3 227.2 L422.3 230.5 L421.4 233.8 L420.7 237.1 L420.2 240.5 L419.8 243.8 L419.7 247.1 L419.6 250.4 L419.8 253.6 L420.2 256.7 L420.7 259.8 L421.3 262.8 L422.2 265.6 L423.2 268.3 L424.4 270.9 L425.7 273.3 L427.2 275.6 L428.8 277.6 L430.5 279.5 L432.4 281.2 L434.3 282.7 L436.4 284.0 L438.6 285.0 L440.8 285.9 L444.1 286.9" fill="none" stroke="#161616" stroke-width="2.0" />
<path d="M473.5 193.4 L471.2 192.8 L468.8 192.4 L466.4 192.3 L463.9 192.4 L461.4 192.7 L458.9 193.3 L456.4 194.1 L453.9 195.1 L451.5 196.3 L449.0 197.7 L446.6 199.4 L444.3 201.2 L442.1 203.3 L439.9 205.5 L437.8 207.9 L435.8 210.4 L434.0 213.1 L432.2 215.9 L430.6 218.9 L429.1 221.9 L427.8 225.0 L426.6 228.3 L425.6 231.5 L424.7 234.8 L424.0 238.2 L423.5 241.5 L423.1 244.8 L423.0 248.1 L422.9 251.4 L423.1 254.6 L423.5 257.8 L424.0 260.8 L424.6 263.8 L425.5 266.6 L426.5 269.4 L427.7 271.9 L429.0 274.4 L430.5 276.6 L432.1 278.7 L433.8 280.6 L435.7 282.3 L437.6 283.8 L439.7 285.0 L441.9 286.1 L444.1 286.9 L447.4 287.9 L449.7 288.6 L452.1 288.9 L454.5 289.1 L457.0 289.0 L459.5 288.7 L462.0 288.1 L464.5 287.3 L467.0 286.3 L469.4 285.1 L471.9 283.6 L474.3 282.0 L476.6 280.1 L478.8 278.1 L481.0 275.9 L483.1 273.5 L485.1 270.9 L486.9 268.3 L488.7 265.4 L490.3 262.5 L491.8 259.5 L493.1 256.3 L494.3 253.1 L495.3 249.9 L496.2 246.6 L496.9 243.2 L497.4 239.9 L497.8 236.5 L497.9 233.2 L498.0 230.0 L497.8 226.7 L497.4 223.6 L496.9 220.5 L496.3 217.6 L495.4 214.7 L494.4 212.0 L493.2 209.4 L491.9 207.0 L490.4 204.8 L488.8 202.7 L487.1 200.8 L485.2 199.1 L483.3 197.6 L481.2 196.4 L479.0 195.3 L476.8 194.5Z" fill="#fff" stroke="none" stroke-width="0" />
<path d="M476.8 194.5 L473.5 193.4 L471.2 192.8 L468.8 192.4 L466.4 192.3 L463.9 192.4 L461.4 192.7 L458.9 193.3 L456.4 194.1 L453.9 195.1 L451.5 196.3 L449.0 197.7 L446.6 199.4 L444.3 201.2 L442.1 203.3 L439.9 205.5 L437.8 207.9 L435.8 210.4 L434.0 213.1 L432.2 215.9 L430.6 218.9 L429.1 221.9 L427.8 225.0 L426.6 228.3 L425.6 231.5 L424.7 234.8 L424.0 238.2 L423.5 241.5 L423.1 244.8 L423.0 248.1 L422.9 251.4 L423.1 254.6 L423.5 257.8 L424.0 260.8 L424.6 263.8 L425.5 266.6 L426.5 269.4 L427.7 271.9 L429.0 274.4 L430.5 276.6 L432.1 278.7 L433.8 280.6 L435.7 282.3 L437.6 283.8 L439.7 285.0 L441.9 286.1 L444.1 286.9 L447.4 287.9" fill="none" stroke="#161616" stroke-width="1.25" />
<path d="M476.8 194.5 L474.5 193.9 L472.1 193.5 L469.7 193.3 L467.2 193.4 L464.7 193.8 L462.2 194.3 L459.7 195.1 L457.2 196.1 L454.8 197.3 L452.3 198.8 L449.9 200.4 L447.6 202.3 L445.4 204.3 L443.2 206.5 L441.1 208.9 L439.1 211.5 L437.3 214.2 L435.5 217.0 L433.9 219.9 L432.4 223.0 L431.1 226.1 L429.9 229.3 L428.9 232.6 L428.0 235.9 L427.3 239.2 L426.8 242.5 L426.4 245.9 L426.3 249.2 L426.2 252.4 L426.4 255.7 L426.8 258.8 L427.3 261.9 L427.9 264.8 L428.8 267.7 L429.8 270.4 L431.0 273.0 L432.3 275.4 L433.8 277.6 L435.4 279.7 L437.1 281.6 L439.0 283.3 L440.9 284.8 L443.0 286.1 L445.2 287.1 L447.4 287.9 L453.6 288.3 L456.0 288.9 L458.3 289.3 L460.7 289.5 L463.2 289.4 L465.7 289.1 L468.2 288.6 L470.6 287.9 L473.1 286.9 L475.5 285.7 L478.0 284.3 L480.3 282.8 L482.6 281.0 L484.8 279.0 L487.0 276.9 L489.0 274.6 L491.0 272.1 L492.8 269.5 L494.5 266.8 L496.1 263.9 L497.6 261.0 L498.9 258.0 L500.0 254.9 L501.0 251.7 L501.8 248.5 L502.5 245.3 L503.0 242.0 L503.3 238.8 L503.5 235.6 L503.5 232.4 L503.3 229.3 L502.9 226.2 L502.4 223.2 L501.7 220.3 L500.8 217.6 L499.8 214.9 L498.6 212.4 L497.3 210.0 L495.8 207.8 L494.2 205.8 L492.4 204.0 L490.6 202.3 L488.6 200.8 L486.6 199.6 L484.4 198.5 L482.2 197.7Z" fill="#fff" stroke="none" stroke-width="0" />
<path d="M482.2 197.7 L476.8 194.5 L474.5 193.9 L472.1 193.5 L469.7 193.3 L467.2 193.4 L464.7 193.8 L462.2 194.3 L459.7 195.1 L457.2 196.1 L454.8 197.3 L452.3 198.8 L449.9 200.4 L447.6 202.3 L445.4 204.3 L443.2 206.5 L441.1 208.9 L439.1 211.5 L437.3 214.2 L435.5 217.0 L433.9 219.9 L432.4 223.0 L431.1 226.1 L429.9 229.3 L428.9 232.6 L428.0 235.9 L427.3 239.2 L426.8 242.5 L426.4 245.9 L426.3 249.2 L426.2 252.4 L426.4 255.7 L426.8 258.8 L427.3 261.9 L427.9 264.8 L428.8 267.7 L429.8 270.4 L431.0 273.0 L432.3 275.4 L433.8 277.6 L435.4 279.7 L437.1 281.6 L439.0 283.3 L440.9 284.8 L443.0 286.1 L445.2 287.1 L447.4 287.9 L453.6 288.3" fill="none" stroke="#161616" stroke-width="1.25" />
<path d="M453.6 288.3 L456.0 288.9 L458.3 289.3 L460.7 289.5 L463.2 289.4 L465.7 289.1 L468.2 288.6 L470.6 287.9 L473.1 286.9 L475.5 285.7 L478.0 284.3 L480.3 282.8 L482.6 281.0 L484.8 279.0 L487.0 276.9 L489.0 274.6 L491.0 272.1 L492.8 269.5 L494.5 266.8 L496.1 263.9 L497.6 261.0 L498.9 258.0 L500.0 254.9 L501.0 251.7 L501.8 248.5 L502.5 245.3 L503.0 242.0 L503.3 238.8 L503.5 235.6 L503.5 232.4 L503.3 229.3 L502.9 226.2 L502.4 223.2 L501.7 220.3 L500.8 217.6 L499.8 214.9 L498.6 212.4 L497.3 210.0 L495.8 207.8 L494.2 205.8 L492.4 204.0 L490.6 202.3 L488.6 200.8 L486.6 199.6 L484.4 198.5 L482.2 197.7 L479.8 197.1 L477.5 196.7 L475.1 196.6 L472.6 196.6 L470.1 196.9 L467.6 197.5 L465.2 198.2 L462.7 199.2 L460.3 200.3 L457.8 201.7 L455.5 203.3 L453.2 205.1 L451.0 207.0 L448.8 209.2 L446.8 211.5 L444.8 213.9 L443.0 216.5 L441.3 219.3 L439.7 222.1 L438.2 225.1 L436.9 228.1 L435.8 231.2 L434.8 234.4 L434.0 237.6 L433.3 240.8 L432.8 244.0 L432.5 247.3 L432.3 250.5 L432.3 253.7 L432.5 256.8 L432.9 259.9 L433.4 262.8 L434.1 265.7 L435.0 268.5 L436.0 271.1 L437.2 273.7 L438.5 276.0 L440.0 278.2 L441.6 280.3 L443.4 282.1 L445.2 283.8 L447.2 285.2 L449.2 286.5 L451.4 287.5 L453.6 288.3Z" fill="#fff" stroke="#161616" stroke-width="2.0" />
<path d="M457.0 283.4 L458.9 283.9 L461.0 284.2 L463.0 284.4 L465.1 284.3 L467.3 284.0 L469.4 283.5 L471.5 282.9 L473.7 282.0 L475.8 281.0 L477.8 279.7 L479.9 278.3 L481.9 276.7 L483.8 275.0 L485.6 273.1 L487.4 271.1 L489.1 268.9 L490.7 266.6 L492.2 264.2 L493.5 261.7 L494.8 259.1 L495.9 256.4 L497.0 253.7 L497.8 250.9 L498.6 248.1 L499.2 245.3 L499.6 242.4 L499.9 239.6 L500.1 236.7 L500.1 233.9 L499.9 231.2 L499.7 228.5 L499.2 225.9 L498.6 223.4 L497.9 220.9 L497.0 218.6 L496.1 216.4 L494.9 214.4 L493.7 212.4 L492.3 210.7 L490.8 209.1 L489.2 207.6 L487.6 206.4 L485.8 205.3 L484.0 204.4 L482.0 203.7 L480.1 203.1 L478.0 202.8 L476.0 202.7 L473.9 202.8 L471.7 203.1 L469.6 203.5 L467.5 204.2 L465.3 205.1 L463.2 206.1 L461.2 207.3 L459.1 208.8 L457.1 210.3 L455.2 212.1 L453.4 214.0 L451.6 216.0 L449.9 218.2 L448.3 220.5 L446.8 222.9 L445.5 225.4 L444.2 228.0 L443.1 230.6 L442.0 233.4 L441.2 236.2 L440.4 239.0 L439.8 241.8 L439.4 244.7 L439.1 247.5 L438.9 250.3 L438.9 253.1 L439.1 255.9 L439.3 258.6 L439.8 261.2 L440.4 263.7 L441.1 266.1 L442.0 268.4 L442.9 270.6 L444.1 272.7 L445.3 274.6 L446.7 276.4 L448.2 278.0 L449.8 279.4 L451.4 280.7 L453.2 281.8 L455.0 282.7 L457.0 283.4Z" fill="#fff" stroke="#161616" stroke-width="1.25" />
<path d="M463.1 283.5 L464.9 283.9 L466.7 284.2 L468.5 284.2 L470.3 284.1 L472.2 283.8 L474.1 283.3 L476.0 282.6 L477.9 281.7 L479.8 280.7 L481.7 279.5 L483.5 278.1 L485.3 276.6 L487.0 274.9 L488.7 273.0 L490.3 271.0 L491.8 268.9 L493.3 266.7 L494.7 264.4 L495.9 262.0 L497.1 259.5 L498.2 256.9 L499.1 254.3 L500.0 251.7 L500.7 249.0 L501.3 246.2 L501.7 243.5 L502.1 240.8 L502.3 238.1 L502.4 235.5 L502.3 232.9 L502.1 230.3 L501.8 227.9 L501.3 225.5 L500.7 223.2 L500.0 221.0 L499.2 219.0 L498.3 217.0 L497.2 215.2 L496.0 213.6 L494.8 212.1 L493.4 210.7 L492.0 209.6 L490.4 208.6 L488.8 207.8 L487.2 207.2 L485.4 206.7 L483.6 206.5 L481.8 206.4 L480.0 206.5 L478.1 206.8 L476.2 207.3 L474.3 208.0 L472.4 208.9 L470.5 209.9 L468.6 211.1 L466.8 212.5 L465.0 214.1 L463.3 215.8 L461.6 217.6 L460.0 219.6 L458.5 221.7 L457.0 223.9 L455.6 226.2 L454.4 228.6 L453.2 231.1 L452.1 233.7 L451.2 236.3 L450.3 239.0 L449.6 241.7 L449.0 244.4 L448.6 247.1 L448.2 249.8 L448.0 252.5 L447.9 255.1 L448.0 257.7 L448.2 260.3 L448.5 262.8 L449.0 265.1 L449.6 267.4 L450.3 269.6 L451.1 271.7 L452.0 273.6 L453.1 275.4 L454.3 277.0 L455.5 278.5 L456.9 279.9 L458.3 281.0 L459.9 282.0 L461.5 282.8 L463.1 283.5Z" fill="#fff" stroke="#161616" stroke-width="2.0" />
<path d="M468.9 268.1 L470.0 268.4 L471.2 268.6 L472.3 268.6 L473.5 268.6 L474.7 268.4 L475.9 268.1 L477.0 267.7 L478.2 267.3 L479.4 266.7 L480.6 266.0 L481.7 265.2 L482.8 264.3 L483.9 263.3 L484.9 262.2 L485.9 261.1 L486.9 259.8 L487.8 258.5 L488.6 257.2 L489.4 255.8 L490.1 254.3 L490.7 252.8 L491.3 251.2 L491.8 249.7 L492.2 248.1 L492.5 246.5 L492.8 244.9 L493.0 243.3 L493.1 241.7 L493.1 240.1 L493.0 238.6 L492.8 237.0 L492.6 235.6 L492.3 234.1 L491.9 232.8 L491.4 231.5 L490.9 230.2 L490.2 229.1 L489.5 228.0 L488.8 227.0 L488.0 226.1 L487.1 225.3 L486.2 224.6 L485.2 224.0 L484.1 223.5 L483.1 223.1 L482.0 222.8 L480.8 222.6 L479.7 222.5 L478.5 222.6 L477.3 222.8 L476.1 223.0 L475.0 223.4 L473.8 223.9 L472.6 224.5 L471.4 225.2 L470.3 226.0 L469.2 226.9 L468.1 227.9 L467.1 228.9 L466.1 230.1 L465.1 231.3 L464.2 232.6 L463.4 234.0 L462.6 235.4 L461.9 236.9 L461.3 238.4 L460.7 239.9 L460.2 241.5 L459.8 243.1 L459.5 244.7 L459.2 246.3 L459.0 247.9 L458.9 249.5 L458.9 251.1 L459.0 252.6 L459.2 254.1 L459.4 255.6 L459.7 257.0 L460.1 258.4 L460.6 259.7 L461.1 260.9 L461.8 262.1 L462.5 263.2 L463.2 264.2 L464.0 265.1 L464.9 265.9 L465.8 266.6 L466.8 267.2 L467.9 267.7 L468.9 268.1Z" fill="#fff" stroke="#161616" stroke-width="1.8" />
<line x1="459.8" y1="241.1" x2="520.0" y2="260.0" stroke="#ffd700" stroke-width="1.25" />
<path d="M553.8 225.6 L551.8 225.0 L549.7 224.7 L547.5 224.6 L545.4 224.7 L543.2 225.0 L541.0 225.4 L538.8 226.1 L536.6 227.0 L534.5 228.1 L532.3 229.4 L530.2 230.8 L528.2 232.4 L526.2 234.2 L524.3 236.2 L522.5 238.3 L520.7 240.5 L519.1 242.9 L517.6 245.3 L516.2 247.9 L514.9 250.6 L513.7 253.3 L512.7 256.1 L511.8 259.0 L511.0 261.9 L510.4 264.8 L509.9 267.8 L509.6 270.7 L509.4 273.6 L509.4 276.5 L509.6 279.3 L509.9 282.0 L510.3 284.7 L510.9 287.3 L511.7 289.8 L512.6 292.2 L513.6 294.5 L514.7 296.6 L516.0 298.6 L517.4 300.4 L519.0 302.0 L520.6 303.5 L522.3 304.8 L524.1 306.0 L526.0 306.9 L528.0 307.6 L529.8 308.2 L531.8 308.7 L533.9 309.0 L536.1 309.2 L538.2 309.1 L540.4 308.8 L542.6 308.3 L544.8 307.6 L547.0 306.7 L549.1 305.6 L551.3 304.4 L553.4 302.9 L555.4 301.3 L557.4 299.5 L559.3 297.6 L561.1 295.5 L562.9 293.3 L564.5 290.9 L566.0 288.4 L567.4 285.8 L568.7 283.2 L569.9 280.4 L570.9 277.6 L571.8 274.7 L572.6 271.8 L573.2 268.9 L573.7 266.0 L574.0 263.1 L574.2 260.2 L574.2 257.3 L574.0 254.5 L573.7 251.7 L573.3 249.0 L572.7 246.4 L571.9 243.9 L571.0 241.5 L570.0 239.3 L568.9 237.2 L567.6 235.2 L566.2 233.4 L564.6 231.7 L563.0 230.2 L561.3 228.9 L559.5 227.8 L557.6 226.9 L555.6 226.1Z" fill="#fff" stroke="none" stroke-width="0" />
<path d="M555.6 226.1 L553.8 225.6 L551.8 225.0 L549.7 224.7 L547.5 224.6 L545.4 224.7 L543.2 225.0 L541.0 225.4 L538.8 226.1 L536.6 227.0 L534.5 228.1 L532.3 229.4 L530.2 230.8 L528.2 232.4 L526.2 234.2 L524.3 236.2 L522.5 238.3 L520.7 240.5 L519.1 242.9 L517.6 245.3 L516.2 247.9 L514.9 250.6 L513.7 253.3 L512.7 256.1 L511.8 259.0 L511.0 261.9 L510.4 264.8 L509.9 267.8 L509.6 270.7 L509.4 273.6 L509.4 276.5 L509.6 279.3 L509.9 282.0 L510.3 284.7 L510.9 287.3 L511.7 289.8 L512.6 292.2 L513.6 294.5 L514.7 296.6 L516.0 298.6 L517.4 300.4 L519.0 302.0 L520.6 303.5 L522.3 304.8 L524.1 306.0 L526.0 306.9 L528.0 307.6 L529.8 308.2" fill="none" stroke="#161616" stroke-width="1.25" />
<path d="M555.6 226.1 L553.6 225.6 L551.5 225.3 L549.3 225.2 L547.2 225.2 L545.0 225.5 L542.8 226.0 L540.6 226.7 L538.4 227.6 L536.3 228.7 L534.1 229.9 L532.0 231.4 L530.0 233.0 L528.0 234.8 L526.1 236.7 L524.3 238.8 L522.5 241.1 L520.9 243.4 L519.4 245.9 L518.0 248.5 L516.7 251.1 L515.5 253.9 L514.5 256.7 L513.6 259.6 L512.8 262.5 L512.2 265.4 L511.7 268.3 L511.4 271.2 L511.2 274.1 L511.2 277.0 L511.4 279.8 L511.7 282.6 L512.1 285.3 L512.7 287.9 L513.5 290.4 L514.4 292.8 L515.4 295.0 L516.5 297.2 L517.8 299.1 L519.2 301.0 L520.8 302.6 L522.4 304.1 L524.1 305.4 L525.9 306.5 L527.8 307.4 L529.8 308.2 L532.7 309.1 L534.7 309.6 L536.8 309.9 L539.0 310.1 L541.1 310.0 L543.3 309.7 L545.5 309.2 L547.7 308.5 L549.9 307.6 L552.0 306.6 L554.2 305.3 L556.3 303.8 L558.3 302.2 L560.3 300.4 L562.2 298.5 L564.0 296.4 L565.8 294.2 L567.4 291.8 L568.9 289.3 L570.3 286.8 L571.6 284.1 L572.8 281.3 L573.8 278.5 L574.7 275.7 L575.5 272.8 L576.1 269.8 L576.6 266.9 L576.9 264.0 L577.1 261.1 L577.1 258.2 L576.9 255.4 L576.6 252.6 L576.2 249.9 L575.6 247.3 L574.8 244.8 L573.9 242.4 L572.9 240.2 L571.8 238.1 L570.5 236.1 L569.1 234.3 L567.5 232.6 L565.9 231.1 L564.2 229.8 L562.4 228.7 L560.5 227.8 L558.5 227.0Z" fill="#fff" stroke="none" stroke-width="0" />
<path d="M558.5 227.0 L555.6 226.1 L553.6 225.6 L551.5 225.3 L549.3 225.2 L547.2 225.2 L545.0 225.5 L542.8 226.0 L540.6 226.7 L538.4 227.6 L536.3 228.7 L534.1 229.9 L532.0 231.4 L530.0 233.0 L528.0 234.8 L526.1 236.7 L524.3 238.8 L522.5 241.1 L520.9 243.4 L519.4 245.9 L518.0 248.5 L516.7 251.1 L515.5 253.9 L514.5 256.7 L513.6 259.6 L512.8 262.5 L512.2 265.4 L511.7 268.3 L511.4 271.2 L511.2 274.1 L511.2 277.0 L511.4 279.8 L511.7 282.6 L512.1 285.3 L512.7 287.9 L513.5 290.4 L514.4 292.8 L515.4 295.0 L516.5 297.2 L517.8 299.1 L519.2 301.0 L520.8 302.6 L522.4 304.1 L524.1 305.4 L525.9 306.5 L527.8 307.4 L529.8 308.2 L532.7 309.1" fill="none" stroke="#161616" stroke-width="1.25" />
<path d="M532.7 309.1 L534.7 309.6 L536.8 309.9 L539.0 310.1 L541.1 310.0 L543.3 309.7 L545.5 309.2 L547.7 308.5 L549.9 307.6 L552.0 306.6 L554.2 305.3 L556.3 303.8 L558.3 302.2 L560.3 300.4 L562.2 298.5 L564.0 296.4 L565.8 294.2 L567.4 291.8 L568.9 289.3 L570.3 286.8 L571.6 284.1 L572.8 281.3 L573.8 278.5 L574.7 275.7 L575.5 272.8 L576.1 269.8 L576.6 266.9 L576.9 264.0 L577.1 261.1 L577.1 258.2 L576.9 255.4 L576.6 252.6 L576.2 249.9 L575.6 247.3 L574.8 244.8 L573.9 242.4 L572.9 240.2 L571.8 238.1 L570.5 236.1 L569.1 234.3 L567.5 232.6 L565.9 231.1 L564.2 229.8 L562.4 228.7 L560.5 227.8 L558.5 227.0 L556.5 226.5 L554.4 226.2 L552.2 226.1 L550.1 226.1 L547.9 226.4 L545.7 226.9 L543.5 227.6 L541.3 228.5 L539.2 229.6 L537.0 230.8 L534.9 232.3 L532.9 233.9 L530.9 235.7 L529.0 237.6 L527.2 239.7 L525.4 242.0 L523.8 244.3 L522.3 246.8 L520.9 249.4 L519.6 252.1 L518.4 254.8 L517.4 257.6 L516.5 260.5 L515.7 263.4 L515.1 266.3 L514.6 269.2 L514.3 272.2 L514.1 275.1 L514.1 277.9 L514.3 280.8 L514.6 283.5 L515.0 286.2 L515.6 288.8 L516.4 291.3 L517.3 293.7 L518.3 295.9 L519.4 298.1 L520.7 300.0 L522.1 301.9 L523.7 303.5 L525.3 305.0 L527.0 306.3 L528.8 307.4 L530.7 308.4 L532.7 309.1Z" fill="#fff" stroke="#161616" stroke-width="1.25" />
<path d="M538.4 306.5 L540.2 306.9 L542.1 307.2 L544.0 307.3 L546.0 307.3 L547.9 307.0 L549.9 306.6 L551.9 306.0 L553.9 305.2 L555.8 304.2 L557.7 303.0 L559.6 301.7 L561.5 300.3 L563.2 298.7 L565.0 296.9 L566.6 295.0 L568.2 293.0 L569.7 290.9 L571.0 288.6 L572.3 286.3 L573.5 283.9 L574.6 281.4 L575.5 278.9 L576.3 276.3 L577.0 273.7 L577.5 271.0 L578.0 268.4 L578.2 265.8 L578.4 263.1 L578.4 260.5 L578.3 258.0 L578.0 255.5 L577.6 253.1 L577.0 250.7 L576.4 248.5 L575.6 246.3 L574.6 244.3 L573.6 242.4 L572.4 240.6 L571.2 239.0 L569.8 237.5 L568.3 236.1 L566.8 234.9 L565.1 233.9 L563.4 233.1 L561.6 232.4 L559.8 232.0 L557.9 231.7 L556.0 231.6 L554.0 231.6 L552.1 231.9 L550.1 232.3 L548.1 232.9 L546.1 233.7 L544.2 234.7 L542.3 235.9 L540.4 237.2 L538.5 238.6 L536.8 240.2 L535.0 242.0 L533.4 243.9 L531.8 245.9 L530.3 248.0 L529.0 250.3 L527.7 252.6 L526.5 255.0 L525.4 257.5 L524.5 260.0 L523.7 262.6 L523.0 265.2 L522.5 267.9 L522.0 270.5 L521.8 273.1 L521.6 275.8 L521.6 278.4 L521.7 280.9 L522.0 283.4 L522.4 285.8 L523.0 288.2 L523.6 290.4 L524.4 292.6 L525.4 294.6 L526.4 296.5 L527.6 298.3 L528.8 299.9 L530.2 301.4 L531.7 302.8 L533.2 304.0 L534.9 305.0 L536.6 305.8 L538.4 306.5Z" fill="#fff" stroke="#161616" stroke-width="1.25" />
<path d="M560.9 241.7 L559.5 241.4 L558.1 241.2 L556.6 241.1 L555.1 241.1 L553.6 241.3 L552.1 241.7 L550.6 242.1 L549.0 242.7 L547.6 243.5 L546.1 244.4 L544.6 245.4 L543.2 246.5 L541.9 247.7 L540.5 249.1 L539.3 250.5 L538.1 252.1 L536.9 253.7 L535.9 255.4 L534.9 257.2 L534.0 259.0 L533.2 260.9 L532.5 262.9 L531.9 264.8 L531.3 266.8 L530.9 268.9 L530.6 270.9 L530.4 272.9 L530.3 274.9 L530.3 276.9 L530.4 278.8 L530.6 280.8 L530.9 282.6 L531.3 284.4 L531.8 286.1 L532.4 287.8 L533.1 289.3 L533.9 290.8 L534.8 292.2 L535.8 293.4 L536.8 294.6 L538.0 295.6 L539.2 296.5 L540.4 297.3 L541.7 297.9 L543.1 298.4 L571.1 307.2 L572.5 307.6 L573.9 307.8 L575.4 307.9 L576.9 307.8 L578.4 307.6 L579.9 307.3 L581.4 306.8 L583.0 306.2 L584.4 305.5 L585.9 304.6 L587.4 303.6 L588.8 302.5 L590.1 301.2 L591.5 299.9 L592.7 298.5 L593.9 296.9 L595.1 295.3 L596.1 293.6 L597.1 291.8 L598.0 289.9 L598.8 288.1 L599.5 286.1 L600.1 284.1 L600.7 282.1 L601.1 280.1 L601.4 278.1 L601.6 276.1 L601.7 274.1 L601.7 272.1 L601.6 270.1 L601.4 268.2 L601.1 266.4 L600.7 264.6 L600.2 262.8 L599.6 261.2 L598.9 259.6 L598.1 258.2 L597.2 256.8 L596.2 255.5 L595.2 254.4 L594.0 253.4 L592.8 252.5 L591.6 251.7 L590.3 251.1 L588.9 250.6Z" fill="#fff" stroke="none" stroke-width="0" />
<path d="M588.9 250.6 L560.9 241.7 L559.5 241.4 L558.1 241.2 L556.6 241.1 L555.1 241.1 L553.6 241.3 L552.1 241.7 L550.6 242.1 L549.0 242.7 L547.6 243.5 L546.1 244.4 L544.6 245.4 L543.2 246.5 L541.9 247.7 L540.5 249.1 L539.3 250.5 L538.1 252.1 L536.9 253.7 L535.9 255.4 L534.9 257.2 L534.0 259.0 L533.2 260.9 L532.5 262.9 L531.9 264.8 L531.3 266.8 L530.9 268.9 L530.6 270.9 L530.4 272.9 L530.3 274.9 L530.3 276.9 L530.4 278.8 L530.6 280.8 L530.9 282.6 L531.3 284.4 L531.8 286.1 L532.4 287.8 L533.1 289.3 L533.9 290.8 L534.8 292.2 L535.8 293.4 L536.8 294.6 L538.0 295.6 L539.2 296.5 L540.4 297.3 L541.7 297.9 L543.1 298.4 L571.1 307.2" fill="none" stroke="#161616" stroke-width="1.25" />
<path d="M590.5 237.3 L588.5 236.8 L586.4 236.5 L584.3 236.4 L582.2 236.4 L580.0 236.7 L577.8 237.2 L575.6 237.9 L573.4 238.8 L571.3 239.8 L569.2 241.1 L567.1 242.5 L565.1 244.2 L563.1 245.9 L561.2 247.9 L559.4 250.0 L557.6 252.2 L556.0 254.5 L554.5 257.0 L553.1 259.6 L551.8 262.2 L550.6 265.0 L549.6 267.8 L548.7 270.6 L547.9 273.5 L547.3 276.4 L546.9 279.3 L546.6 282.2 L546.4 285.1 L546.4 288.0 L546.5 290.8 L546.8 293.5 L547.3 296.2 L547.9 298.8 L548.6 301.3 L549.5 303.7 L550.5 305.9 L551.7 308.0 L552.9 310.0 L554.3 311.8 L555.9 313.5 L557.5 314.9 L559.2 316.2 L561.0 317.3 L562.9 318.3 L564.9 319.0 L569.8 320.5 L571.8 321.1 L573.9 321.4 L576.0 321.5 L578.1 321.4 L580.3 321.1 L582.5 320.7 L584.7 320.0 L586.9 319.1 L589.0 318.0 L591.1 316.8 L593.2 315.3 L595.2 313.7 L597.2 311.9 L599.1 310.0 L600.9 307.9 L602.7 305.7 L604.3 303.3 L605.8 300.9 L607.2 298.3 L608.5 295.6 L609.7 292.9 L610.7 290.1 L611.6 287.3 L612.4 284.4 L613.0 281.5 L613.4 278.5 L613.7 275.6 L613.9 272.7 L613.9 269.9 L613.8 267.1 L613.5 264.3 L613.0 261.7 L612.4 259.1 L611.7 256.6 L610.8 254.2 L609.8 252.0 L608.6 249.8 L607.4 247.9 L606.0 246.1 L604.4 244.4 L602.8 242.9 L601.1 241.6 L599.3 240.5 L597.4 239.6 L595.4 238.9Z" fill="#fff" stroke="none" stroke-width="0" />
<path d="M595.4 238.9 L590.5 237.3 L588.5 236.8 L586.4 236.5 L584.3 236.4 L582.2 236.4 L580.0 236.7 L577.8 237.2 L575.6 237.9 L573.4 238.8 L571.3 239.8 L569.2 241.1 L567.1 242.5 L565.1 244.2 L563.1 245.9 L561.2 247.9 L559.4 250.0 L557.6 252.2 L556.0 254.5 L554.5 257.0 L553.1 259.6 L551.8 262.2 L550.6 265.0 L549.6 267.8 L548.7 270.6 L547.9 273.5 L547.3 276.4 L546.9 279.3 L546.6 282.2 L546.4 285.1 L546.4 288.0 L546.5 290.8 L546.8 293.5 L547.3 296.2 L547.9 298.8 L548.6 301.3 L549.5 303.7 L550.5 305.9 L551.7 308.0 L552.9 310.0 L554.3 311.8 L555.9 313.5 L557.5 314.9 L559.2 316.2 L561.0 317.3 L562.9 318.3 L564.9 319.0 L569.8 320.5" fill="none" stroke="#161616" stroke-width="1.25" />
<path d="M569.8 320.5 L571.8 321.1 L573.9 321.4 L576.0 321.5 L578.1 321.4 L580.3 321.1 L582.5 320.7 L584.7 320.0 L586.9 319.1 L589.0 318.0 L591.1 316.8 L593.2 315.3 L595.2 313.7 L597.2 311.9 L599.1 310.0 L600.9 307.9 L602.7 305.7 L604.3 303.3 L605.8 300.9 L607.2 298.3 L608.5 295.6 L609.7 292.9 L610.7 290.1 L611.6 287.3 L612.4 284.4 L613.0 281.5 L613.4 278.5 L613.7 275.6 L613.9 272.7 L613.9 269.9 L613.8 267.1 L613.5 264.3 L613.0 261.7 L612.4 259.1 L611.7 256.6 L610.8 254.2 L609.8 252.0 L608.6 249.8 L607.4 247.9 L606.0 246.1 L604.4 244.4 L602.8 242.9 L601.1 241.6 L599.3 240.5 L597.4 239.6 L595.4 238.9 L593.4 238.3 L591.3 238.0 L589.2 237.9 L587.1 238.0 L584.9 238.3 L582.7 238.7 L580.5 239.4 L578.3 240.3 L576.2 241.4 L574.1 242.6 L572.0 244.1 L570.0 245.7 L568.0 247.5 L566.1 249.4 L564.3 251.5 L562.5 253.7 L560.9 256.1 L559.4 258.5 L558.0 261.1 L556.7 263.8 L555.5 266.5 L554.5 269.3 L553.6 272.1 L552.8 275.0 L552.2 277.9 L551.8 280.9 L551.5 283.8 L551.3 286.7 L551.3 289.5 L551.4 292.3 L551.7 295.1 L552.2 297.8 L552.8 300.3 L553.5 302.8 L554.4 305.2 L555.4 307.5 L556.6 309.6 L557.8 311.5 L559.2 313.3 L560.8 315.0 L562.4 316.5 L564.1 317.8 L565.9 318.9 L567.8 319.8 L569.8 320.5Z" fill="#fff" stroke="#161616" stroke-width="1.25" />
<path d="M595.6 253.7 L594.3 253.4 L592.9 253.1 L591.4 253.1 L590.0 253.1 L588.5 253.3 L587.1 253.6 L585.6 254.1 L584.1 254.7 L582.7 255.4 L581.3 256.2 L579.9 257.2 L578.5 258.3 L577.2 259.5 L575.9 260.8 L574.7 262.2 L573.5 263.7 L572.5 265.2 L571.4 266.9 L570.5 268.6 L569.6 270.4 L568.8 272.2 L568.1 274.1 L567.5 276.0 L567.0 278.0 L566.6 279.9 L566.3 281.9 L566.1 283.8 L566.0 285.8 L566.0 287.7 L566.1 289.6 L566.3 291.4 L566.6 293.2 L567.0 294.9 L567.5 296.6 L568.1 298.2 L568.8 299.7 L569.5 301.1 L570.4 302.4 L571.3 303.6 L572.4 304.8 L573.4 305.7 L574.6 306.6 L575.8 307.4 L577.1 308.0 L578.4 308.5 L593.6 313.2 L594.9 313.6 L596.3 313.8 L597.8 313.9 L599.2 313.8 L600.7 313.7 L602.1 313.3 L603.6 312.9 L605.1 312.3 L606.5 311.6 L607.9 310.7 L609.3 309.7 L610.7 308.7 L612.0 307.5 L613.3 306.2 L614.5 304.8 L615.7 303.3 L616.7 301.7 L617.8 300.1 L618.7 298.3 L619.6 296.6 L620.4 294.7 L621.1 292.8 L621.7 290.9 L622.2 289.0 L622.6 287.0 L622.9 285.1 L623.1 283.1 L623.2 281.2 L623.2 279.3 L623.1 277.4 L622.9 275.6 L622.6 273.8 L622.2 272.0 L621.7 270.4 L621.1 268.8 L620.4 267.3 L619.7 265.8 L618.8 264.5 L617.9 263.3 L616.8 262.2 L615.8 261.2 L614.6 260.3 L613.4 259.6 L612.1 259.0 L610.8 258.5Z" fill="#fff" stroke="none" stroke-width="0" />
<path d="M610.8 258.5 L595.6 253.7 L594.3 253.4 L592.9 253.1 L591.4 253.1 L590.0 253.1 L588.5 253.3 L587.1 253.6 L585.6 254.1 L584.1 254.7 L582.7 255.4 L581.3 256.2 L579.9 257.2 L578.5 258.3 L577.2 259.5 L575.9 260.8 L574.7 262.2 L573.5 263.7 L572.5 265.2 L571.4 266.9 L570.5 268.6 L569.6 270.4 L568.8 272.2 L568.1 274.1 L567.5 276.0 L567.0 278.0 L566.6 279.9 L566.3 281.9 L566.1 283.8 L566.0 285.8 L566.0 287.7 L566.1 289.6 L566.3 291.4 L566.6 293.2 L567.0 294.9 L567.5 296.6 L568.1 298.2 L568.8 299.7 L569.5 301.1 L570.4 302.4 L571.3 303.6 L572.4 304.8 L573.4 305.7 L574.6 306.6 L575.8 307.4 L577.1 308.0 L578.4 308.5 L593.6 313.2" fill="none" stroke="#161616" stroke-width="1.25" />
<path d="M589.8 311.4 L591.0 312.1 L592.3 312.8 L593.6 313.2 L594.9 313.6 L596.3 313.8 L597.8 313.9 L599.2 313.8 L600.7 313.7 L602.1 313.3 L603.6 312.9 L605.1 312.3 L606.5 311.6 L607.9 310.7 L609.3 309.7 L610.7 308.7 L612.0 307.5 L613.3 306.2 L614.5 304.8 L615.7 303.3 L616.7 301.7 L617.8 300.1 L618.7 298.3 L619.6 296.6 L620.4 294.7 L621.1 292.8 L621.7 290.9 L622.2 289.0 L622.6 287.0 L622.9 285.1 L623.1 283.1 L623.2 281.2 L623.2 279.3 L623.1 277.4 L622.9 275.6 L622.6 273.8 L622.2 272.0 L621.7 270.4 L621.1 268.8 L620.4 267.3 L619.7 265.8 L618.8 264.5 L617.9 263.3 L616.8 262.2 L615.8 261.2 L614.6 260.3 L613.4 259.6 L612.1 259.0 L610.8 258.5 L609.5 258.1 L608.1 257.9 L606.6 257.8" fill="none" stroke="#161616" stroke-width="1.25" />
<path d="M598.5 304.4 L599.3 304.6 L600.2 304.8 L601.2 304.8 L602.1 304.8 L603.0 304.6 L604.0 304.4 L604.9 304.1 L605.9 303.7 L606.8 303.3 L607.7 302.7 L608.6 302.1 L609.5 301.4 L610.4 300.6 L611.2 299.7 L612.0 298.8 L612.7 297.8 L613.5 296.8 L614.1 295.7 L614.7 294.6 L615.3 293.4 L615.8 292.2 L616.3 291.0 L616.7 289.7 L617.0 288.5 L617.3 287.2 L617.5 285.9 L617.6 284.6 L617.7 283.4 L617.7 282.1 L617.6 280.9 L617.5 279.7 L617.3 278.5 L617.1 277.4 L616.8 276.3 L616.4 275.2 L615.9 274.2 L615.4 273.3 L614.9 272.5 L614.3 271.7 L613.6 270.9 L612.9 270.3 L612.2 269.7 L611.4 269.2 L610.6 268.8 L609.7 268.5 L608.9 268.3 L608.0 268.2 L607.0 268.1 L606.1 268.2 L605.2 268.3 L604.2 268.5 L603.3 268.8 L602.3 269.2 L601.4 269.7 L600.5 270.2 L599.6 270.9 L598.7 271.6 L597.8 272.4 L597.0 273.2 L596.2 274.1 L595.5 275.1 L594.7 276.1 L594.1 277.2 L593.5 278.4 L592.9 279.5 L592.4 280.7 L591.9 282.0 L591.5 283.2 L591.2 284.5 L590.9 285.7 L590.7 287.0 L590.6 288.3 L590.5 289.6 L590.5 290.8 L590.6 292.1 L590.7 293.3 L590.9 294.4 L591.1 295.6 L591.4 296.7 L591.8 297.7 L592.3 298.7 L592.8 299.6 L593.3 300.5 L593.9 301.3 L594.6 302.0 L595.3 302.6 L596.0 303.2 L596.8 303.7 L597.6 304.1 L598.5 304.4Z" fill="#fff" stroke="#161616" stroke-width="1.25" />
<line x1="593.2" y1="283.0" x2="667.0" y2="306.2" stroke="#ffd700" stroke-width="1.25" />
<path d="M718.4 266.9 L715.9 266.2 L713.3 265.8 L710.7 265.6 L708.0 265.7 L705.3 266.1 L702.6 266.7 L699.9 267.5 L697.2 268.6 L694.6 270.0 L691.9 271.5 L689.4 273.3 L686.8 275.3 L684.4 277.5 L682.1 279.9 L679.8 282.5 L677.7 285.2 L675.6 288.2 L673.8 291.2 L672.0 294.4 L670.4 297.7 L669.0 301.1 L667.7 304.5 L666.6 308.1 L665.6 311.6 L664.9 315.2 L664.3 318.8 L663.9 322.5 L663.7 326.0 L663.7 329.6 L663.9 333.1 L664.3 336.5 L664.8 339.8 L665.6 343.0 L666.5 346.0 L667.6 349.0 L668.8 351.8 L670.3 354.4 L671.8 356.8 L673.6 359.1 L675.5 361.1 L677.5 362.9 L679.6 364.6 L681.8 365.9 L684.2 367.1 L686.6 368.0 L944.1 449.0 L946.6 449.6 L949.2 450.0 L951.8 450.2 L954.5 450.1 L957.2 449.7 L959.9 449.1 L962.6 448.3 L965.3 447.2 L967.9 445.8 L970.6 444.3 L973.1 442.5 L975.7 440.5 L978.1 438.3 L980.4 435.9 L982.7 433.3 L984.8 430.6 L986.9 427.7 L988.7 424.6 L990.5 421.4 L992.1 418.1 L993.5 414.8 L994.8 411.3 L995.9 407.8 L996.9 404.2 L997.6 400.6 L998.2 397.0 L998.6 393.4 L998.8 389.8 L998.8 386.2 L998.6 382.8 L998.2 379.4 L997.7 376.0 L996.9 372.8 L996.0 369.8 L994.9 366.8 L993.7 364.0 L992.2 361.4 L990.7 359.0 L988.9 356.7 L987.0 354.7 L985.0 352.9 L982.9 351.3 L980.7 349.9 L978.3 348.7 L975.9 347.8Z" fill="#fff" stroke="none" stroke-width="0" />
<path d="M975.9 347.8 L718.4 266.9 L715.9 266.2 L713.3 265.8 L710.7 265.6 L708.0 265.7 L705.3 266.1 L702.6 266.7 L699.9 267.5 L697.2 268.6 L694.6 270.0 L691.9 271.5 L689.4 273.3 L686.8 275.3 L684.4 277.5 L682.1 279.9 L679.8 282.5 L677.7 285.2 L675.6 288.2 L673.8 291.2 L672.0 294.4 L670.4 297.7 L669.0 301.1 L667.7 304.5 L666.6 308.1 L665.6 311.6 L664.9 315.2 L664.3 318.8 L663.9 322.5 L663.7 326.0 L663.7 329.6 L663.9 333.1 L664.3 336.5 L664.8 339.8 L665.6 343.0 L666.5 346.0 L667.6 349.0 L668.8 351.8 L670.3 354.4 L671.8 356.8 L673.6 359.1 L675.5 361.1 L677.5 362.9 L679.6 364.6 L681.8 365.9 L684.2 367.1 L686.6 368.0 L944.1 449.0" fill="none" stroke="#161616" stroke-width="1.25" />
<path d="M741.2 310.5 C737.5 306 735.5 299 738.5 294.5 C741 291 744.5 290.5 747.5 291.3 L902.5 340" fill="none" stroke="#161616" stroke-width="1.25" />
<line x1="747.5" y1="305.5" x2="901.0" y2="353.0" stroke="#161616" stroke-width="1.25" />
<path d="M900.9 340.0 L988.0 312.5 L1056.6 334.0 L1056.6 467.5 L995.0 487.0 L969.3 487.0 L900.9 465.0Z" fill="#fff" stroke="#161616" stroke-width="1.25" />
<path d="M900.9 340.0 L969.0 361.3 L995.0 361.3 L1056.6 342.2" fill="none" stroke="#161616" stroke-width="1.25" />
<line x1="969.0" y1="361.3" x2="969.3" y2="487.0" stroke="#161616" stroke-width="1.25" />
<line x1="995.0" y1="361.3" x2="995.0" y2="487.0" stroke="#161616" stroke-width="1.25" />
<ellipse cx="986.25" cy="332.6" rx="18.6" ry="6.3" fill="#fff" stroke="#161616" stroke-width="1.5"/>
<path d="M969.2 333.2 A17.2 5.6 0 0 1 1003.3 333.2" fill="none" stroke="#161616" stroke-width="1.0"/>
<ellipse cx="986.4" cy="334.75" rx="10.3" ry="3.7" fill="#fff" stroke="#161616" stroke-width="1.4"/>
<line x1="986.5" y1="298.0" x2="986.5" y2="337.0" stroke="#ffd700" stroke-width="1.0" />
<path d="M1028.8 437.6 L1088.8 457.1 L1083.1 477.0 L1022.2 458.0Z" fill="#fff" stroke="none" stroke-width="0" />
<line x1="1028.8" y1="437.6" x2="1088.8" y2="457.1" stroke="#161616" stroke-width="1.25" />
<line x1="1022.2" y1="458.0" x2="1083.1" y2="477.0" stroke="#161616" stroke-width="1.25" />
<ellipse cx="0" cy="0" rx="7.45" ry="11.3" transform="translate(1086.9 467.3) rotate(17.4)" fill="#fff" stroke="#161616" stroke-width="1.25"/>
<path d="M1028.8 379.0 L1088.8 398.5 L1083.1 418.4 L1022.2 399.4Z" fill="#fff" stroke="none" stroke-width="0" />
<line x1="1028.8" y1="379.0" x2="1088.8" y2="398.5" stroke="#161616" stroke-width="1.25" />
<line x1="1022.2" y1="399.4" x2="1083.1" y2="418.4" stroke="#161616" stroke-width="1.25" />
<ellipse cx="0" cy="0" rx="7.45" ry="11.3" transform="translate(1086.9 408.7) rotate(17.4)" fill="#fff" stroke="#161616" stroke-width="1.25"/>
<ellipse cx="0" cy="0" rx="24.9" ry="37.3" transform="translate(923.75 415.55) rotate(-18)" fill="#fff" stroke="#161616" stroke-width="1.0"/>
<ellipse cx="0" cy="0" rx="24.9" ry="37.3" transform="translate(922.05 416.05) rotate(-18)" fill="#fff" stroke="#161616" stroke-width="1.1"/>
<path d="M912.4 406.9 L920.9 403.3 L930.0 412.2 L930.0 424.2 L921.3 430.2 L912.4 420.4Z" fill="#fff" stroke="#161616" stroke-width="1.3" />
<path d="M912.4 420.4 L922.3 417.1 L930.0 424.2" fill="none" stroke="#161616" stroke-width="1.3" />
<line x1="922.3" y1="417.1" x2="920.9" y2="403.3" stroke="#161616" stroke-width="1.3" />
<path d="M977.4 211 L977.4 221.6 Q977.5 222.9 979.3 223.6 Q986.4 227.2 993.5 223.6 Q995.3 222.9 995.4 221.6 L995.4 211Z" fill="#fff" stroke="none" stroke-width="0" />
<path d="M977.4 211 L977.4 221.6 Q977.5 222.9 979.3 223.6 Q986.4 227.2 993.5 223.6 Q995.3 222.9 995.4 221.6 L995.4 211" fill="none" stroke="#161616" stroke-width="1.3" />
<path d="M974.1 202.4 L974.1 208.6 Q974.2 210.2 976.2 211 Q986.5 215.6 996.8 211 Q998.8 210.2 998.9 208.6 L998.9 202.4Z" fill="#fff" stroke="none" stroke-width="0" />
<path d="M974.1 202.4 L974.1 208.6 Q974.2 210.2 976.2 211 Q986.5 215.6 996.8 211 Q998.8 210.2 998.9 208.6 L998.9 202.4" fill="none" stroke="#161616" stroke-width="1.3" />
<ellipse cx="986.50" cy="202.40" rx="12.40" ry="4.00" fill="#fff" stroke="#161616" stroke-width="1.0"/>
<path d="M974.1 202.4 A12.4 4.0 0 0 0 998.9 202.4" fill="none" stroke="#161616" stroke-width="1.9" />
<ellipse cx="986.50" cy="202.45" rx="5.00" ry="1.50" fill="#fff" stroke="#161616" stroke-width="1.5"/>
<line x1="986.5" y1="225.8" x2="986.5" y2="241.8" stroke="#ffd700" stroke-width="1.0" />
<path d="M978.6 279 L978.6 294.6 Q978.7 295.8 980.2 296.4 Q986.4 299.6 992.5 296.4 Q994 295.8 994.1 294.6 L994.1 279Z" fill="#fff" stroke="none" stroke-width="0" />
<path d="M978.6 279 L978.6 294.6 Q978.7 295.8 980.2 296.4 Q986.4 299.6 992.5 296.4 Q994 295.8 994.1 294.6 L994.1 279" fill="none" stroke="#161616" stroke-width="1.3" />
<path d="M975.7 271.5 C975.2 273 974.2 274 974.3 275.3 C974.3 276.3 974.7 276.9 975.4 277.2 Q986.9 282.6 998.4 277.2 C999.1 276.9 999.5 276.3 999.5 275.3 C999.6 274 998.6 273 998.1 271.5Z" fill="#fff" stroke="none" stroke-width="0" />
<path d="M975.7 271.5 C975.2 273 974.2 274 974.3 275.3 C974.3 276.3 974.7 276.9 975.4 277.2 Q986.9 282.6 998.4 277.2 C999.1 276.9 999.5 276.3 999.5 275.3 C999.6 274 998.6 273 998.1 271.5" fill="none" stroke="#161616" stroke-width="1.3" />
<path d="M975.4 277.2 Q986.9 282.6 998.4 277.2" fill="none" stroke="#161616" stroke-width="2.0" />
<path d="M975.7 261 L975.7 271.5 Q986.9 276.5 997.7 271.5 L997.7 261Z" fill="#fff" stroke="none" stroke-width="0" />
<path d="M975.7 261 L975.7 271.5 Q986.9 276.5 997.7 271.5 L997.7 261" fill="none" stroke="#161616" stroke-width="1.3" />
<path d="M975.7 271.5 Q986.9 276.5 997.7 271.5" fill="none" stroke="#161616" stroke-width="1.6" />
<path d="M975.9 263.2 Q986.7 268.4 997.5 263.2" fill="none" stroke="#161616" stroke-width="0.9" />
<path d="M975.7 261.9 Q986.7 266.3 997.7 261.9" fill="none" stroke="#161616" stroke-width="1.2" />
<path d="M972.1 241.8 L972.1 257.8 Q972.3 259.6 974.6 260.4 Q986.4 265.4 998.2 260.4 Q1000.5 259.6 1000.7 257.8 L1000.7 241.8Z" fill="#fff" stroke="none" stroke-width="0" />
<path d="M972.1 241.8 L972.1 257.8 Q972.3 259.6 974.6 260.4 Q986.4 265.4 998.2 260.4 Q1000.5 259.6 1000.7 257.8 L1000.7 241.8" fill="none" stroke="#161616" stroke-width="1.3" />
<ellipse cx="986.40" cy="241.75" rx="14.30" ry="4.75" fill="#fff" stroke="#161616" stroke-width="1.0"/>
<path d="M972.1 241.75 A14.3 4.75 0 0 0 1000.7 241.75" fill="none" stroke="#161616" stroke-width="2.0" />
<ellipse cx="986.50" cy="241.80" rx="4.70" ry="1.60" fill="#fff" stroke="#161616" stroke-width="1.5"/>
<line x1="986.5" y1="232.0" x2="986.5" y2="241.9" stroke="#ffd700" stroke-width="1.0" />
<path d="M983.0 280.6 L983.0 282.2 A1.3 1.3 0 0 0 985.6 282.2 L985.6 280.6" fill="none" stroke="#161616" stroke-width="1.1" />
<path d="M990.3 280.4 L990.3 281.9 A1.3 1.3 0 0 0 992.9 281.9 L992.9 280.4" fill="none" stroke="#161616" stroke-width="1.1" />
<rect x="438.8" y="429.4" width="186.3" height="205.8" fill="#fff" stroke="#161616" stroke-width="1.4"/>
<line x1="441.0" y1="477.4" x2="622.8" y2="477.4" stroke="#161616" stroke-width="1.3" />
<path d="M521.6 435.3 L526.4 435.3 C528.6 435.3 529.2 431.5 531.6 431.5 C534 431.5 534.6 435.3 536.8 435.3 L541.9 435.3 A3.1 3.1 0 0 1 541.9 441.5 L521.6 441.5 A3.1 3.1 0 0 1 521.6 435.3Z" fill="none" stroke="#161616" stroke-width="1.2" />
<g clip-path="url(#bagclip)">
<path d="M441.2 609.7 a22.2 22.2 0 1 0 44.4 0 a22.2 22.2 0 1 0 -44.4 0Z M446.0 609.7 a17.4 17.4 0 1 0 34.8 0 a17.4 17.4 0 1 0 -34.8 0Z" fill="#fff" fill-rule="evenodd" stroke="#161616" stroke-width="1.1"/>
<path d="M506.5 590.0 a41.5 41.5 0 1 0 83.0 0 a41.5 41.5 0 1 0 -83.0 0Z M510.5 590.0 a37.5 37.5 0 1 0 75.0 0 a37.5 37.5 0 1 0 -75.0 0Z" fill="#fff" fill-rule="evenodd" stroke="#161616" stroke-width="1.1"/>
<path d="M442.2 570.0 a59.4 55.6 0 1 0 118.8 0 a59.4 55.6 0 1 0 -118.8 0Z M447.2 570.0 a54.4 50.6 0 1 0 108.8 0 a54.4 50.6 0 1 0 -108.8 0Z" fill="#fff" fill-rule="evenodd" stroke="#161616" stroke-width="1.1"/>
<path d="M465.5 570.7 a46.5 48.2 0 1 0 93.0 0 a46.5 48.2 0 1 0 -93.0 0Z M470.5 570.7 a41.5 43.2 0 1 0 83.0 0 a41.5 43.2 0 1 0 -83.0 0Z" fill="#fff" fill-rule="evenodd" stroke="#161616" stroke-width="1.1"/>
<path d="M536.0 582.0 a29.0 38.5 0 1 0 58.0 0 a29.0 38.5 0 1 0 -58.0 0Z M538.6 582.0 a26.4 35.9 0 1 0 52.8 0 a26.4 35.9 0 1 0 -52.8 0Z" fill="#fff" fill-rule="evenodd" stroke="#161616" stroke-width="1.1"/>
<path d="M498.0 580.5 a27.0 36.0 0 1 0 54.0 0 a27.0 36.0 0 1 0 -54.0 0Z M501.0 580.5 a24.0 33.0 0 1 0 48.0 0 a24.0 33.0 0 1 0 -48.0 0Z" fill="#fff" fill-rule="evenodd" stroke="#161616" stroke-width="1.1"/>
<path d="M529.8 546.8 a45.6 45.8 0 1 0 91.2 0 a45.6 45.8 0 1 0 -91.2 0Z M535.3 546.8 a40.1 40.2 0 1 0 80.2 0 a40.1 40.2 0 1 0 -80.2 0Z" fill="#fff" fill-rule="evenodd" stroke="#161616" stroke-width="1.1"/>
<path d="M506.0 516.8 a29.0 28.3 0 1 0 58.0 0 a29.0 28.3 0 1 0 -58.0 0Z M514.6 516.8 a20.4 19.7 0 1 0 40.8 0 a20.4 19.7 0 1 0 -40.8 0Z" fill="#fff" fill-rule="evenodd" stroke="#161616" stroke-width="1.1"/>
<ellipse cx="535.0" cy="516.8" rx="24.7" ry="24.0" fill="none" stroke="#161616" stroke-width="0.9"/>
<ellipse cx="535.0" cy="516.8" rx="22.8" ry="22.1" fill="none" stroke="#161616" stroke-width="0.9"/>
<path d="M524.0 582.6 a49.5 49.4 0 1 0 99.0 0 a49.5 49.4 0 1 0 -99.0 0Z M533.5 582.6 a40.0 39.9 0 1 0 80.0 0 a40.0 39.9 0 1 0 -80.0 0Z" fill="#fff" fill-rule="evenodd" stroke="#161616" stroke-width="1.25"/>
<ellipse cx="573.5" cy="582.6" rx="47.8" ry="47.7" fill="none" stroke="#161616" stroke-width="1.2"/>
<path d="M441.5 551.0 a55.0 55.0 0 1 0 110.0 0 a55.0 55.0 0 1 0 -110.0 0Z M446.1 551.0 a50.4 50.4 0 1 0 100.8 0 a50.4 50.4 0 1 0 -100.8 0Z" fill="#fff" fill-rule="evenodd" stroke="#161616" stroke-width="1.1"/>
<ellipse cx="561.9" cy="532.25" rx="32.0" ry="31.2" fill="none" stroke="#161616" stroke-width="1.9"/>
</g>
<line x1="167.7" y1="27.0" x2="167.6" y2="108.8" stroke="#161616" stroke-width="1.2" />
<path d="M167.6 120.0 L164.5 106.8 L170.7 106.8Z" fill="#161616" stroke="none"/>
<line x1="447.0" y1="114.0" x2="447.1" y2="173.9" stroke="#161616" stroke-width="1.2" />
<path d="M447.1 185.1 L444.0 171.9 L450.2 171.9Z" fill="#161616" stroke="none"/>
<line x1="582.5" y1="151.0" x2="582.3" y2="226.8" stroke="#161616" stroke-width="1.2" />
<path d="M582.3 238.0 L579.2 224.8 L585.4 224.8Z" fill="#161616" stroke="none"/>
<line x1="531.5" y1="400.0" x2="531.6" y2="320.5" stroke="#161616" stroke-width="1.2" />
<path d="M531.6 309.3 L534.7 322.5 L528.5 322.5Z" fill="#161616" stroke="none"/>
<line x1="887.5" y1="176.5" x2="966.5" y2="201.9" stroke="#161616" stroke-width="1.2" />
<path d="M974.1 204.4 L963.6 204.4 L965.6 198.3Z" fill="#161616" stroke="none"/>
<line x1="886.3" y1="247.2" x2="967.6" y2="274.7" stroke="#161616" stroke-width="1.2" />
<path d="M975.2 277.3 L964.7 277.1 L966.8 271.1Z" fill="#161616" stroke="none"/>
<path d="M163.7 9.5 C163.9 6.8 165.5 5.3 168 5.3 C170.6 5.3 172.4 7 172.4 9.8 C172.4 11.5 171.9 12.8 171 14.1 L163.9 22.7 L172.5 22.7" fill="none" stroke="#161616" stroke-width="1.5" stroke-linecap="round" stroke-linejoin="round"/>
<path d="M442.4 92.2 L447.8 92.2 C450.3 92.2 451.5 93.6 451.5 95.6 L451.5 96.8 C451.5 98.8 450.3 100 448.3 100 L444.7 100 M448.3 100 C450.5 100 451.7 101.4 451.7 103.6 L451.7 105.8 C451.7 108.1 450.3 109.5 448 109.5 L442.4 109.5" fill="none" stroke="#161616" stroke-width="1.5" stroke-linecap="round" stroke-linejoin="round"/>
<path d="M582 129 L577.2 142.8 L587.8 142.8 M584 138.8 L584 146.8" fill="none" stroke="#161616" stroke-width="1.6" stroke-linecap="round" stroke-linejoin="round"/>
<path d="M879.1 235 L872.2 235 L872.2 242.5 L876.5 242.5 Q880 242.5 880 246 L880 248 Q880 251.9 876 251.9 L871.8 251.9" fill="none" stroke="#161616" stroke-width="1.6" stroke-linecap="round" stroke-linejoin="round"/>
<path d="M879.3 164.8 C876.5 165.8 873.7 168.5 873.7 172 L873.7 178 C873.7 180.3 875.3 181.7 877.5 181.7 C879.7 181.7 881.2 180.3 881.2 178 L881.2 175.3 C881.2 173 879.7 171.6 877.5 171.6 C875.8 171.6 874.4 172.3 873.7 173.8" fill="none" stroke="#161616" stroke-width="1.6" stroke-linecap="round" stroke-linejoin="round"/>
<path d="M527.5 405 L536 405 L531.5 422 M530.8 414 L536.5 413" fill="none" stroke="#161616" stroke-width="1.6" stroke-linecap="round" stroke-linejoin="round"/>
</svg>
</body></html>
